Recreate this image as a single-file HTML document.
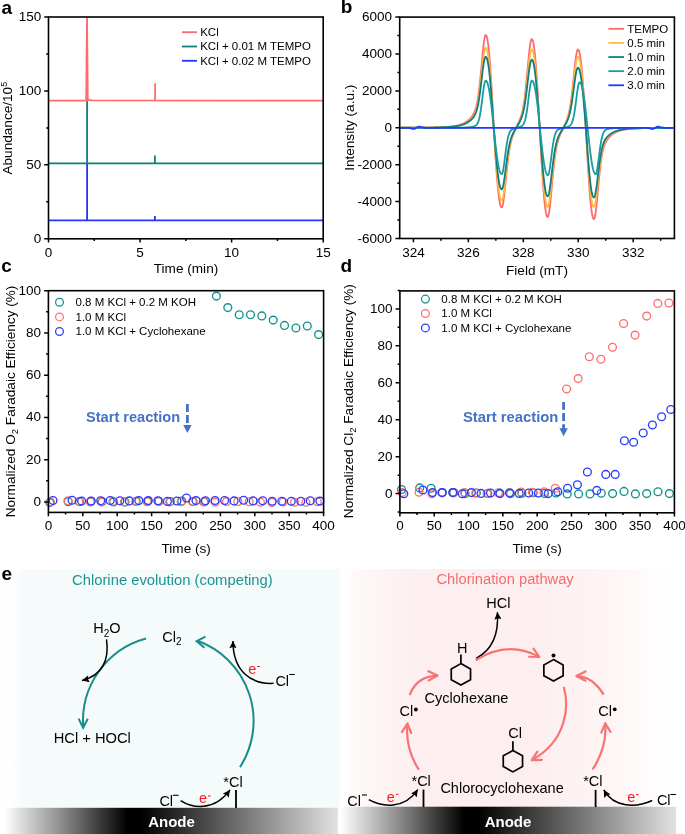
<!DOCTYPE html>
<html><head><meta charset="utf-8"><style>
html,body{margin:0;padding:0;background:#fff;}
svg{display:block;font-family:"Liberation Sans", sans-serif;will-change:transform;}
</style></head><body>
<svg width="685" height="834" viewBox="0 0 685 834">
<defs>
<linearGradient id="gL" x1="0" y1="0" x2="1" y2="0"><stop offset="0" stop-color="#fff"/><stop offset="0.035" stop-color="#FDFEFE"/><stop offset="0.075" stop-color="#F6FAFB"/><stop offset="1" stop-color="#F5FAFB"/></linearGradient>
<linearGradient id="gR" x1="0" y1="0" x2="1" y2="0"><stop offset="0" stop-color="#fff"/><stop offset="0.06" stop-color="#FEF8F8"/><stop offset="0.22" stop-color="#FDEFEF"/><stop offset="0.58" stop-color="#FDEFEF"/><stop offset="0.8" stop-color="#FEF5F5"/><stop offset="0.98" stop-color="#FFFFFF"/><stop offset="1" stop-color="#FFFFFF"/></linearGradient>
<linearGradient id="aL" x1="0" y1="0" x2="1" y2="0"><stop offset="0" stop-color="#fff"/><stop offset="0.17" stop-color="#8E8E8E"/><stop offset="0.37" stop-color="#000"/><stop offset="0.41" stop-color="#000"/><stop offset="1" stop-color="#E2E2E2"/></linearGradient>
<linearGradient id="aR" x1="0" y1="0" x2="1" y2="0"><stop offset="0" stop-color="#fff"/><stop offset="0.17" stop-color="#8E8E8E"/><stop offset="0.37" stop-color="#000"/><stop offset="0.41" stop-color="#000"/><stop offset="1" stop-color="#E2E2E2"/></linearGradient>
<marker id="mk" viewBox="0 0 10 10" refX="10" refY="5" markerWidth="7.2" markerHeight="7.2" markerUnits="userSpaceOnUse" orient="auto"><path d="M0 0L10 5L0 10L1.6 5Z" fill="#000"/></marker>
</defs>
<rect x="0" y="569" width="339.8" height="240" fill="url(#gL)"/>
<rect x="339.8" y="569" width="337" height="240" fill="url(#gR)"/>
<rect x="4" y="807.8" width="334" height="26.2" fill="url(#aL)"/>
<rect x="340.5" y="806.7" width="335.7" height="27.3" fill="url(#aR)"/>
<text x="171.5" y="826.8" font-size="15" text-anchor="middle" font-weight="bold" fill="#fff" >Anode</text>
<text x="508" y="826.8" font-size="15" text-anchor="middle" font-weight="bold" fill="#fff" >Anode</text>
<text x="1.5" y="579.7" font-size="19" text-anchor="start" font-weight="bold" fill="#000" >e</text>
<text x="72" y="584.9" font-size="14.8" text-anchor="start" font-weight="normal" fill="#1A9592" >Chlorine evolution (competing)</text>
<text x="436.5" y="583.9" font-size="14.7" text-anchor="start" font-weight="normal" fill="#F46D6D" >Chlorination pathway</text>
<path d="M146.08 638.54A85.3 85.3 0 0 0 83.26 727.59" stroke="#168E8B" stroke-width="2" fill="none"/>
<path d="M239.97 767.15A85.3 85.3 0 0 0 197.55 640.77" stroke="#168E8B" stroke-width="2" fill="none"/>
<path d="M78.6 718.6L83.1 727.8L87.8 718.8" stroke="#168E8B" stroke-width="2" fill="none" stroke-linejoin="miter"/>
<path d="M205.5 636.6L196.6 641.1L204.4 647.8" stroke="#168E8B" stroke-width="2" fill="none"/>
<text x="93.3" y="632.6" font-size="14.5">H<tspan font-size="10" dy="4">2</tspan><tspan dy="-4">O</tspan></text>
<text x="162.3" y="641.6" font-size="14.5">Cl<tspan font-size="10" dy="3.6">2</tspan></text>
<text x="53.7" y="743.4" font-size="14.7" text-anchor="start" font-weight="normal" fill="#000" >HCl + HOCl</text>
<text x="223.3" y="786.6" font-size="14.5" text-anchor="start" font-weight="normal" fill="#000" >*Cl</text>
<text x="159.4" y="806.4" font-size="14.5">Cl</text><path d="M173.0 795.3H178.6" stroke="#000" stroke-width="1.1"/>
<text x="543.8" y="687" font-size="14.5"></text>
<text x="275.4" y="686.0" font-size="14.5">Cl</text><path d="M289.2 674.5H294.8" stroke="#000" stroke-width="1.1"/>
<text x="199.1" y="803.0" font-size="14.5" fill="#FF1A1A">e</text><path d="M208.0 796.0H210.6" stroke="#FF1A1A" stroke-width="1.1"/>
<text x="248.3" y="674.0" font-size="14.5" fill="#FF1A1A">e</text><path d="M257.1 666.5H259.9" stroke="#FF1A1A" stroke-width="1.1"/>
<path d="M106.5 639.3C109.5 660 102 676 82 680.4" stroke="#000" stroke-width="1.5" fill="none" marker-end="url(#mk)"/>
<path d="M273.6 683.3C252 684.5 232.8 672 233 641" stroke="#000" stroke-width="1.5" fill="none" marker-end="url(#mk)"/>
<path d="M180.6 800.6C192 808 214 812 230 789.9" stroke="#000" stroke-width="1.5" fill="none" marker-end="url(#mk)"/>
<path d="M236 790.1V808" stroke="#000" stroke-width="1.8"/>
<text x="486.2" y="607.6" font-size="14.5" text-anchor="start" font-weight="normal" fill="#000" >HCl</text>
<text x="424.6" y="703.3" font-size="14.5" text-anchor="start" font-weight="normal" fill="#000" >Cyclohexane</text>
<text x="440.4" y="792.5" font-size="14.5" text-anchor="start" font-weight="normal" fill="#000" >Chlorocyclohexane</text>
<text x="399.5" y="715.6" font-size="14.5">Cl</text><circle cx="415.9" cy="709.5" r="1.9" fill="#000"/>
<text x="598.3" y="715.7" font-size="14.5">Cl</text><circle cx="614.7" cy="709.3" r="1.9" fill="#000"/>
<text x="411.5" y="785.8" font-size="14.5" text-anchor="start" font-weight="normal" fill="#000" >*Cl</text>
<text x="583.2" y="785.9" font-size="14.5" text-anchor="start" font-weight="normal" fill="#000" >*Cl</text>
<text x="347.3" y="806.2" font-size="14.5">Cl</text><path d="M362.0 795.0H367.0" stroke="#000" stroke-width="1.1"/>
<text x="656.9" y="805.1" font-size="14.5">Cl</text><path d="M670.4 794.5H675.9" stroke="#000" stroke-width="1.1"/>
<text x="386.8" y="801.8" font-size="14.5" fill="#FF1A1A">e</text><path d="M396.0 794.3H398.4" stroke="#FF1A1A" stroke-width="1.1"/>
<text x="627.3" y="802.0" font-size="14.5" fill="#FF1A1A">e</text><path d="M636.0 794.6H638.6" stroke="#FF1A1A" stroke-width="1.1"/>
<path d="M423.5 789.6V807" stroke="#000" stroke-width="1.8"/>
<path d="M595.6 789.9V807" stroke="#000" stroke-width="1.8"/>
<path d="M368.8 799.7C382 807 404 810 417.8 789.6" stroke="#000" stroke-width="1.5" fill="none" marker-end="url(#mk)"/>
<path d="M652.2 800.5C636 808 614 808 603.8 789.9" stroke="#000" stroke-width="1.5" fill="none" marker-end="url(#mk)"/>
<path d="M476.1 658.3C492 650 499 635 497.4 612.2" stroke="#000" stroke-width="1.5" fill="none" marker-end="url(#mk)"/>
<path d="M460.90 663.60L470.54 668.95L470.54 679.65L460.90 685.00L451.26 679.65L451.26 668.95Z" stroke="#000" stroke-width="1.7" fill="none" stroke-linejoin="miter"/>
<path d="M460.9 663.9V654.5" stroke="#000" stroke-width="1.7"/>
<text x="456.9" y="653" font-size="14.5" text-anchor="start" font-weight="normal" fill="#000" >H</text>
<path d="M553.50 659.60L563.14 664.95L563.14 675.65L553.50 681.00L543.86 675.65L543.86 664.95Z" stroke="#000" stroke-width="1.7" fill="none"/>
<circle cx="553.5" cy="655.5" r="2" fill="#000"/>
<path d="M512.90 750.50L522.54 755.85L522.54 766.55L512.90 771.90L503.26 766.55L503.26 755.85Z" stroke="#000" stroke-width="1.7" fill="none"/>
<path d="M512.9 750.8V741.3" stroke="#000" stroke-width="1.7"/>
<text x="508.2" y="737.5" font-size="14.5" text-anchor="start" font-weight="normal" fill="#000" >Cl</text>
<path d="M418.8 769.7Q405 748 407.4 723.5" stroke="#F87373" stroke-width="2.2" fill="none"/>
<path d="M411.12 733.00L407.40 723.50L401.91 732.09" stroke="#F87373" stroke-width="2.2" fill="none" stroke-linecap="round" stroke-linejoin="round"/>
<path d="M409.6 695Q417 676 437.6 675.6" stroke="#F87373" stroke-width="2.2" fill="none"/>
<path d="M428.60 680.41L437.60 675.60L428.42 671.15" stroke="#F87373" stroke-width="2.2" fill="none" stroke-linecap="round" stroke-linejoin="round"/>
<path d="M475.7 660.2Q508 640 539.3 657" stroke="#F87373" stroke-width="2.2" fill="none"/>
<path d="M529.10 656.73L539.30 657.00L533.52 648.59" stroke="#F87373" stroke-width="2.2" fill="none" stroke-linecap="round" stroke-linejoin="round"/>
<path d="M563.7 686.7C569 705 568 740 531.7 760.2" stroke="#F87373" stroke-width="2.2" fill="none"/>
<path d="M537.39 751.73L531.70 760.20L541.89 759.83" stroke="#F87373" stroke-width="2.2" fill="none" stroke-linecap="round" stroke-linejoin="round"/>
<path d="M592.5 769.5Q607 748 605.3 723.2" stroke="#F87373" stroke-width="2.2" fill="none"/>
<path d="M610.54 731.95L605.30 723.20L601.30 732.58" stroke="#F87373" stroke-width="2.2" fill="none" stroke-linecap="round" stroke-linejoin="round"/>
<path d="M603.8 694.7Q592 676 576.4 676.1" stroke="#F87373" stroke-width="2.2" fill="none"/>
<path d="M585.46 671.41L576.40 676.10L585.52 680.67" stroke="#F87373" stroke-width="2.2" fill="none" stroke-linecap="round" stroke-linejoin="round"/>
<path d="M48.5 220.4H323.2M87.1 220.4V163.4M154.9 220.4V216" stroke="#2236FF" stroke-width="1.8" fill="none"/>
<path d="M48.5 163.4H323.2M87.1 163.4V100.6M154.9 163.4V155.5" stroke="#0B807C" stroke-width="1.8" fill="none"/>
<path d="M48.5 100.6H86.2L87 17L87.8 100.2Q89 99.4 92 100.4L323.2 100.6M155.1 100.6V83.3" stroke="#FF6B6B" stroke-width="1.8" fill="none"/>
<rect x="48.5" y="17" width="274.7" height="221.8" fill="none" stroke="#000" stroke-width="1.6"/>
<path d="M48.5 238.8h-4.3M48.5 164.87h-4.3M48.5 90.93h-4.3M48.5 17h-4.3" stroke="#000" stroke-width="1.5" fill="none"/>
<path d="M48.5 201.83h-2.3M48.5 127.9h-2.3M48.5 53.97h-2.3" stroke="#000" stroke-width="1.5" fill="none"/>
<path d="M48.5 238.8v3.8M140.07 238.8v3.8M231.63 238.8v3.8M323.2 238.8v3.8" stroke="#000" stroke-width="1.5" fill="none"/>
<path d="M94.28 238.8v2.2M185.85 238.8v2.2M277.42 238.8v2.2" stroke="#000" stroke-width="1.5" fill="none"/>
<text x="41.3" y="242.8" font-size="13.5" text-anchor="end" font-weight="normal" fill="#000" >0</text>
<text x="41.3" y="168.87" font-size="13.5" text-anchor="end" font-weight="normal" fill="#000" >50</text>
<text x="41.3" y="94.93" font-size="13.5" text-anchor="end" font-weight="normal" fill="#000" >100</text>
<text x="41.3" y="21" font-size="13.5" text-anchor="end" font-weight="normal" fill="#000" >150</text>
<text x="48.5" y="256.7" font-size="13.5" text-anchor="middle" font-weight="normal" fill="#000" >0</text>
<text x="140.07" y="256.7" font-size="13.5" text-anchor="middle" font-weight="normal" fill="#000" >5</text>
<text x="231.63" y="256.7" font-size="13.5" text-anchor="middle" font-weight="normal" fill="#000" >10</text>
<text x="323.2" y="256.7" font-size="13.5" text-anchor="middle" font-weight="normal" fill="#000" >15</text>
<text x="186" y="272.8" font-size="13.6" text-anchor="middle" font-weight="normal" fill="#000" >Time (min)</text>
<text transform="translate(11.9 128.2) rotate(-90)" font-size="13.6" text-anchor="middle">Abundance/10<tspan font-size="9" dy="-4.8">5</tspan></text>
<path d="M182 32.2H197" stroke="#FF6B6B" stroke-width="1.8"/>
<text x="200.2" y="35.9" font-size="11.5" text-anchor="start" font-weight="normal" fill="#000" >KCl</text>
<path d="M182 46.5H197" stroke="#0B807C" stroke-width="1.8"/>
<text x="200.2" y="50.2" font-size="11.5" text-anchor="start" font-weight="normal" fill="#000" >KCl + 0.01 M TEMPO</text>
<path d="M182 60.8H197" stroke="#2236FF" stroke-width="1.8"/>
<text x="200.2" y="64.5" font-size="11.5" text-anchor="start" font-weight="normal" fill="#000" >KCl + 0.02 M TEMPO</text>
<text x="1.5" y="14.2" font-size="19" text-anchor="start" font-weight="bold" fill="#000" >a</text>
<path d="M400.50 127.74 400.90 127.74 401.30 127.74 401.70 127.74 402.10 127.74 402.50 127.74 402.90 127.73 403.30 127.73 403.70 127.73 404.10 127.73 404.50 127.73 404.90 127.73 405.30 127.73 405.70 127.73 406.10 127.72 406.50 127.72 406.90 127.72 407.30 127.72 407.70 127.72 408.10 127.72 408.50 127.72 408.90 127.71 409.30 127.71 409.70 127.71 410.10 127.71 410.50 127.71 410.90 127.71 411.30 127.70 411.70 127.70 412.10 127.70 412.50 127.70 412.90 127.70 413.30 127.69 413.70 127.69 414.10 127.69 414.50 127.69 414.90 127.69 415.30 127.68 415.70 127.68 416.10 127.68 416.50 127.68 416.90 127.67 417.30 127.67 417.70 127.67 418.10 127.67 418.50 127.66 418.90 127.66 419.30 127.66 419.70 127.65 420.10 127.65 420.50 127.65 420.90 127.64 421.30 127.64 421.70 127.64 422.10 127.63 422.50 127.63 422.90 127.63 423.30 127.62 423.70 127.62 424.10 127.61 424.50 127.61 424.90 127.60 425.30 127.60 425.70 127.60 426.10 127.59 426.50 127.59 426.90 127.58 427.30 127.58 427.70 127.57 428.10 127.56 428.50 127.56 428.90 127.55 429.30 127.55 429.70 127.54 430.10 127.53 430.50 127.53 430.90 127.52 431.30 127.51 431.70 127.51 432.10 127.50 432.50 127.49 432.90 127.48 433.30 127.47 433.70 127.46 434.10 127.46 434.50 127.45 434.90 127.44 435.30 127.43 435.70 127.42 436.10 127.41 436.50 127.39 436.90 127.38 437.30 127.37 437.70 127.36 438.10 127.35 438.50 127.33 438.90 127.32 439.30 127.31 439.70 127.29 440.10 127.28 440.50 127.26 440.90 127.24 441.30 127.23 441.70 127.21 442.10 127.19 442.50 127.17 442.90 127.15 443.30 127.13 443.70 127.11 444.10 127.09 444.50 127.07 444.90 127.04 445.30 127.02 445.70 126.99 446.10 126.96 446.50 126.94 446.90 126.91 447.30 126.88 447.70 126.85 448.10 126.81 448.50 126.78 448.90 126.74 449.30 126.71 449.70 126.67 450.10 126.63 450.50 126.58 450.90 126.54 451.30 126.49 451.70 126.45 452.10 126.40 452.50 126.34 452.90 126.29 453.30 126.23 453.70 126.17 454.10 126.11 454.50 126.04 454.90 125.97 455.30 125.90 455.70 125.83 456.10 125.75 456.50 125.67 456.90 125.58 457.30 125.49 457.70 125.39 458.10 125.30 458.50 125.19 458.90 125.08 459.30 124.97 459.70 124.85 460.10 124.72 460.50 124.59 460.90 124.45 461.30 124.30 461.70 124.15 462.10 123.99 462.50 123.82 462.90 123.65 463.30 123.46 463.70 123.27 464.10 123.06 464.50 122.85 464.90 122.62 465.30 122.39 465.70 122.14 466.10 121.88 466.50 121.61 466.90 121.32 467.30 121.02 467.70 120.71 468.10 120.38 468.50 120.03 468.90 119.67 469.30 119.29 469.70 118.89 470.10 118.47 470.50 118.03 470.90 117.57 471.30 117.09 471.70 116.57 472.10 116.03 472.50 115.44 472.90 114.82 473.30 114.15 473.70 113.43 474.10 112.63 474.50 111.76 474.90 110.80 475.30 109.72 475.70 108.52 476.10 107.17 476.50 105.65 476.90 103.93 477.30 101.99 477.70 99.81 478.10 97.37 478.50 94.66 478.90 91.66 479.30 88.37 479.70 84.81 480.10 80.98 480.50 76.91 480.90 72.66 481.30 68.28 481.70 63.82 482.10 59.39 482.50 55.05 482.90 50.92 483.30 47.07 483.70 43.62 484.10 40.65 484.50 38.25 484.90 36.48 485.30 35.38 485.70 35.01 486.10 35.23 486.50 35.93 486.90 37.13 487.30 38.84 487.70 41.08 488.10 43.83 488.50 47.11 488.90 50.91 489.30 55.21 489.70 59.99 490.10 65.23 490.50 70.90 490.90 76.97 491.30 83.40 491.70 90.15 492.10 97.16 492.50 104.40 492.90 111.80 493.30 119.31 493.70 126.88 494.10 133.56 494.50 140.19 494.90 146.71 495.30 153.09 495.70 159.27 496.10 165.20 496.50 170.86 496.90 176.20 497.30 181.18 497.70 185.78 498.10 189.97 498.50 193.73 498.90 197.04 499.30 199.90 499.70 202.29 500.10 204.22 500.50 205.68 500.90 206.69 501.30 207.25 501.70 207.39 502.10 206.99 502.50 205.96 502.90 204.32 503.30 202.12 503.70 199.42 504.10 196.29 504.50 192.80 504.90 189.05 505.30 185.13 505.70 181.10 506.10 177.06 506.50 173.07 506.90 169.18 507.30 165.46 507.70 161.94 508.10 158.64 508.50 155.59 508.90 152.77 509.30 150.20 509.70 147.87 510.10 145.75 510.50 143.84 510.90 142.11 511.30 140.54 511.70 139.11 512.10 137.80 512.50 136.59 512.90 135.47 513.30 134.41 513.70 133.41 514.10 132.45 514.50 131.53 514.90 130.63 515.30 129.76 515.70 128.89 516.10 128.03 516.50 127.18 516.90 126.33 517.30 125.47 517.70 124.60 518.10 123.73 518.50 122.83 518.90 121.91 519.30 120.95 519.70 119.96 520.10 118.91 520.50 117.80 520.90 116.61 521.30 115.33 521.70 113.93 522.10 112.40 522.50 110.71 522.90 108.83 523.30 106.76 523.70 104.46 524.10 101.92 524.50 99.11 524.90 96.04 525.30 92.69 525.70 89.07 526.10 85.21 526.50 81.12 526.90 76.86 527.30 72.47 527.70 68.02 528.10 63.60 528.50 59.27 528.90 55.15 529.30 51.32 529.70 47.87 530.10 44.89 530.50 42.47 530.90 40.67 531.30 39.54 531.70 39.11 532.10 39.26 532.50 39.88 532.90 40.99 533.30 42.61 533.70 44.73 534.10 47.37 534.50 50.52 534.90 54.18 535.30 58.32 535.70 62.94 536.10 68.01 536.50 73.50 536.90 79.38 537.30 85.62 537.70 92.16 538.10 98.97 538.50 105.99 538.90 113.18 539.30 120.47 539.70 127.83 540.10 135.21 540.50 142.55 540.90 149.77 541.30 156.82 541.70 163.66 542.10 170.24 542.50 176.50 542.90 182.41 543.30 187.93 543.70 193.03 544.10 197.67 544.50 201.83 544.90 205.51 545.30 208.67 545.70 211.32 546.10 213.46 546.50 215.09 546.90 216.21 547.30 216.84 547.70 216.99 548.10 216.56 548.50 215.42 548.90 213.61 549.30 211.19 549.70 208.20 550.10 204.74 550.50 200.89 550.90 196.75 551.30 192.41 551.70 187.97 552.10 183.51 552.50 179.10 552.90 174.82 553.30 170.73 553.70 166.85 554.10 163.22 554.50 159.86 554.90 156.78 555.30 153.97 555.70 151.42 556.10 149.12 556.50 147.04 556.90 145.17 557.30 143.48 557.70 141.95 558.10 140.56 558.50 139.28 558.90 138.09 559.30 136.99 559.70 135.95 560.10 134.96 560.50 134.02 560.90 133.10 561.30 132.22 561.70 131.35 562.10 130.50 562.50 129.65 562.90 128.81 563.30 127.98 563.70 127.14 564.10 126.29 564.50 125.44 564.90 124.56 565.30 123.67 565.70 122.75 566.10 121.79 566.50 120.78 566.90 119.71 567.30 118.56 567.70 117.33 568.10 115.98 568.50 114.51 568.90 112.89 569.30 111.10 569.70 109.12 570.10 106.94 570.50 104.53 570.90 101.88 571.30 98.99 571.70 95.87 572.10 92.51 572.50 88.94 572.90 85.20 573.30 81.32 573.70 77.36 574.10 73.38 574.50 69.46 574.90 65.68 575.30 62.11 575.70 58.84 576.10 55.97 576.50 53.55 576.90 51.65 577.30 50.33 577.70 49.63 578.10 49.53 578.50 49.87 578.90 50.64 579.30 51.85 579.70 53.52 580.10 55.65 580.50 58.23 580.90 61.26 581.30 64.74 581.70 68.66 582.10 72.98 582.50 77.70 582.90 82.78 583.30 88.19 583.70 93.90 584.10 99.86 584.50 106.05 584.90 112.40 585.30 118.87 585.70 125.42 586.10 132.43 586.50 139.86 586.90 147.20 587.30 154.41 587.70 161.43 588.10 168.20 588.50 174.69 588.90 180.84 589.30 186.62 589.70 192.00 590.10 196.93 590.50 201.40 590.90 205.38 591.30 208.86 591.70 211.83 592.10 214.29 592.50 216.23 592.90 217.66 593.30 218.59 593.70 219.04 594.10 219.00 594.50 218.27 594.90 216.86 595.30 214.79 595.70 212.14 596.10 208.97 596.50 205.37 596.90 201.44 597.30 197.26 597.70 192.93 598.10 188.55 598.50 184.19 598.90 179.94 599.30 175.84 599.70 171.95 600.10 168.31 600.50 164.94 600.90 161.85 601.30 159.04 601.70 156.50 602.10 154.24 602.50 152.21 602.90 150.42 603.30 148.83 603.70 147.41 604.10 146.16 604.50 145.04 604.90 144.04 605.30 143.14 605.70 142.32 606.10 141.58 606.50 140.89 606.90 140.26 607.30 139.67 607.70 139.11 608.10 138.59 608.50 138.10 608.90 137.63 609.30 137.19 609.70 136.77 610.10 136.37 610.50 135.99 610.90 135.62 611.30 135.27 611.70 134.94 612.10 134.62 612.50 134.32 612.90 134.03 613.30 133.76 613.70 133.50 614.10 133.25 614.50 133.01 614.90 132.78 615.30 132.57 615.70 132.36 616.10 132.16 616.50 131.98 616.90 131.80 617.30 131.63 617.70 131.47 618.10 131.31 618.50 131.17 618.90 131.03 619.30 130.89 619.70 130.77 620.10 130.65 620.50 130.53 620.90 130.42 621.30 130.32 621.70 130.22 622.10 130.12 622.50 130.03 622.90 129.94 623.30 129.86 623.70 129.78 624.10 129.70 624.50 129.63 624.90 129.56 625.30 129.50 625.70 129.43 626.10 129.37 626.50 129.32 626.90 129.26 627.30 129.21 627.70 129.16 628.10 129.11 628.50 129.06 628.90 129.02 629.30 128.98 629.70 128.94 630.10 128.90 630.50 128.86 630.90 128.82 631.30 128.79 631.70 128.76 632.10 128.72 632.50 128.69 632.90 128.66 633.30 128.64 633.70 128.61 634.10 128.58 634.50 128.56 634.90 128.53 635.30 128.51 635.70 128.49 636.10 128.47 636.50 128.45 636.90 128.43 637.30 128.41 637.70 128.39 638.10 128.37 638.50 128.36 638.90 128.34 639.30 128.32 639.70 128.31 640.10 128.29 640.50 128.28 640.90 128.27 641.30 128.25 641.70 128.24 642.10 128.23 642.50 128.22 642.90 128.21 643.30 128.19 643.70 128.18 644.10 128.17 644.50 128.16 644.90 128.15 645.30 128.14 645.70 128.14 646.10 128.13 646.50 128.12 646.90 128.11 647.30 128.10 647.70 128.09 648.10 128.09 648.50 128.08 648.90 128.07 649.30 128.07 649.70 128.06 650.10 128.05 650.50 128.05 650.90 128.04 651.30 128.04 651.70 128.03 652.10 128.02 652.50 128.02 652.90 128.01 653.30 128.01 653.70 128.00 654.10 128.00 654.50 127.99 654.90 127.99 655.30 127.99 655.70 127.98 656.10 127.98 656.50 127.97 656.90 127.97 657.30 127.97 657.70 127.96 658.10 127.96 658.50 127.96 658.90 127.95 659.30 127.95 659.70 127.95 660.10 127.94 660.50 127.94 660.90 127.94 661.30 127.93 661.70 127.93 662.10 127.93 662.50 127.93 662.90 127.92 663.30 127.92 663.70 127.92 664.10 127.92 664.50 127.91 664.90 127.91 665.30 127.91 665.70 127.91 666.10 127.90 666.50 127.90 666.90 127.90 667.30 127.90 667.70 127.90 668.10 127.90 668.50 127.89 668.90 127.89 669.30 127.89 669.70 127.89 670.10 127.89 670.50 127.89 670.90 127.88 671.30 127.88 671.70 127.88 672.10 127.88 672.50 127.88 672.90 127.88 673.30 127.87" stroke="#FF6B6B" stroke-width="1.8" fill="none" stroke-linejoin="round"/>
<path d="M400.50 127.75 400.90 127.75 401.30 127.75 401.70 127.75 402.10 127.75 402.50 127.74 402.90 127.74 403.30 127.74 403.70 127.74 404.10 127.74 404.50 127.74 404.90 127.74 405.30 127.74 405.70 127.74 406.10 127.73 406.50 127.73 406.90 127.73 407.30 127.73 407.70 127.73 408.10 127.73 408.50 127.73 408.90 127.73 409.30 127.72 409.70 127.72 410.10 127.72 410.50 127.72 410.90 127.72 411.30 127.72 411.70 127.72 412.10 127.71 412.50 127.71 412.90 127.71 413.30 127.71 413.70 127.71 414.10 127.70 414.50 127.70 414.90 127.70 415.30 127.70 415.70 127.70 416.10 127.69 416.50 127.69 416.90 127.69 417.30 127.69 417.70 127.69 418.10 127.68 418.50 127.68 418.90 127.68 419.30 127.68 419.70 127.67 420.10 127.67 420.50 127.67 420.90 127.66 421.30 127.66 421.70 127.66 422.10 127.66 422.50 127.65 422.90 127.65 423.30 127.65 423.70 127.64 424.10 127.64 424.50 127.63 424.90 127.63 425.30 127.63 425.70 127.62 426.10 127.62 426.50 127.61 426.90 127.61 427.30 127.61 427.70 127.60 428.10 127.60 428.50 127.59 428.90 127.59 429.30 127.58 429.70 127.58 430.10 127.57 430.50 127.56 430.90 127.56 431.30 127.55 431.70 127.54 432.10 127.54 432.50 127.53 432.90 127.52 433.30 127.52 433.70 127.51 434.10 127.50 434.50 127.49 434.90 127.49 435.30 127.48 435.70 127.47 436.10 127.46 436.50 127.45 436.90 127.44 437.30 127.43 437.70 127.42 438.10 127.41 438.50 127.40 438.90 127.38 439.30 127.37 439.70 127.36 440.10 127.35 440.50 127.33 440.90 127.32 441.30 127.30 441.70 127.29 442.10 127.27 442.50 127.26 442.90 127.24 443.30 127.22 443.70 127.20 444.10 127.18 444.50 127.17 444.90 127.14 445.30 127.12 445.70 127.10 446.10 127.08 446.50 127.05 446.90 127.03 447.30 127.00 447.70 126.97 448.10 126.95 448.50 126.92 448.90 126.89 449.30 126.85 449.70 126.82 450.10 126.79 450.50 126.75 450.90 126.71 451.30 126.67 451.70 126.63 452.10 126.59 452.50 126.54 452.90 126.49 453.30 126.44 453.70 126.39 454.10 126.34 454.50 126.28 454.90 126.22 455.30 126.16 455.70 126.10 456.10 126.03 456.50 125.96 456.90 125.88 457.30 125.80 457.70 125.72 458.10 125.64 458.50 125.55 458.90 125.45 459.30 125.35 459.70 125.25 460.10 125.14 460.50 125.03 460.90 124.91 461.30 124.78 461.70 124.65 462.10 124.51 462.50 124.37 462.90 124.21 463.30 124.05 463.70 123.88 464.10 123.71 464.50 123.52 464.90 123.33 465.30 123.12 465.70 122.91 466.10 122.69 466.50 122.45 466.90 122.20 467.30 121.95 467.70 121.67 468.10 121.39 468.50 121.09 468.90 120.78 469.30 120.45 469.70 120.11 470.10 119.75 470.50 119.37 470.90 118.97 471.30 118.55 471.70 118.10 472.10 117.63 472.50 117.13 472.90 116.60 473.30 116.02 473.70 115.39 474.10 114.71 474.50 113.95 474.90 113.12 475.30 112.19 475.70 111.16 476.10 109.99 476.50 108.67 476.90 107.19 477.30 105.52 477.70 103.64 478.10 101.53 478.50 99.19 478.90 96.60 479.30 93.77 479.70 90.69 480.10 87.38 480.50 83.87 480.90 80.20 481.30 76.42 481.70 72.58 482.10 68.75 482.50 65.00 482.90 61.43 483.30 58.12 483.70 55.14 484.10 52.58 484.50 50.50 484.90 48.97 485.30 48.03 485.70 47.70 486.10 47.89 486.50 48.50 486.90 49.53 487.30 51.01 487.70 52.94 488.10 55.32 488.50 58.15 488.90 61.42 489.30 65.13 489.70 69.26 490.10 73.78 490.50 78.68 490.90 83.92 491.30 89.46 491.70 95.29 492.10 101.34 492.50 107.58 492.90 113.97 493.30 120.46 493.70 126.99 494.10 133.08 494.50 139.12 494.90 145.06 495.30 150.88 495.70 156.51 496.10 161.92 496.50 167.08 496.90 171.95 497.30 176.49 497.70 180.68 498.10 184.50 498.50 187.93 498.90 190.96 499.30 193.56 499.70 195.74 500.10 197.50 500.50 198.84 500.90 199.76 501.30 200.27 501.70 200.40 502.10 200.04 502.50 199.10 502.90 197.61 503.30 195.60 503.70 193.14 504.10 190.29 504.50 187.12 504.90 183.71 505.30 180.13 505.70 176.46 506.10 172.78 506.50 169.14 506.90 165.61 507.30 162.22 507.70 159.02 508.10 156.02 508.50 153.23 508.90 150.67 509.30 148.34 509.70 146.21 510.10 144.29 510.50 142.55 510.90 140.98 511.30 139.56 511.70 138.26 512.10 137.08 512.50 135.98 512.90 134.96 513.30 134.01 513.70 133.11 514.10 132.24 514.50 131.41 514.90 130.60 515.30 129.81 515.70 129.04 516.10 128.27 516.50 127.50 516.90 126.74 517.30 125.97 517.70 125.19 518.10 124.41 518.50 123.61 518.90 122.78 519.30 121.93 519.70 121.04 520.10 120.11 520.50 119.12 520.90 118.07 521.30 116.93 521.70 115.68 522.10 114.32 522.50 112.83 522.90 111.17 523.30 109.33 523.70 107.29 524.10 105.04 524.50 102.56 524.90 99.84 525.30 96.88 525.70 93.68 526.10 90.27 526.50 86.65 526.90 82.89 527.30 79.01 527.70 75.08 528.10 71.16 528.50 67.34 528.90 63.70 529.30 60.31 529.70 57.26 530.10 54.63 530.50 52.49 530.90 50.90 531.30 49.90 531.70 49.51 532.10 49.64 532.50 50.19 532.90 51.17 533.30 52.60 533.70 54.47 534.10 56.80 534.50 59.58 534.90 62.81 535.30 66.46 535.70 70.54 536.10 75.02 536.50 79.87 536.90 85.06 537.30 90.56 537.70 96.34 538.10 102.35 538.50 108.55 538.90 114.89 539.30 121.34 539.70 127.83 540.10 134.37 540.50 140.87 540.90 147.26 541.30 153.51 541.70 159.57 542.10 165.39 542.50 170.94 542.90 176.18 543.30 181.06 543.70 185.58 544.10 189.69 544.50 193.38 544.90 196.63 545.30 199.43 545.70 201.78 546.10 203.67 546.50 205.11 546.90 206.10 547.30 206.66 547.70 206.79 548.10 206.41 548.50 205.40 548.90 203.80 549.30 201.64 549.70 199.00 550.10 195.93 550.50 192.52 550.90 188.85 551.30 185.00 551.70 181.06 552.10 177.11 552.50 173.20 552.90 169.41 553.30 165.78 553.70 162.34 554.10 159.12 554.50 156.15 554.90 153.41 555.30 150.92 555.70 148.66 556.10 146.61 556.50 144.77 556.90 143.11 557.30 141.61 557.70 140.25 558.10 139.01 558.50 137.87 558.90 136.81 559.30 135.83 559.70 134.90 560.10 134.02 560.50 133.18 560.90 132.37 561.30 131.57 561.70 130.80 562.10 130.03 562.50 129.28 562.90 128.53 563.30 127.78 563.70 127.03 564.10 126.27 564.50 125.50 564.90 124.72 565.30 123.91 565.70 123.08 566.10 122.22 566.50 121.31 566.90 120.34 567.30 119.31 567.70 118.20 568.10 116.98 568.50 115.65 568.90 114.19 569.30 112.57 569.70 110.78 570.10 108.81 570.50 106.63 570.90 104.23 571.30 101.62 571.70 98.79 572.10 95.75 572.50 92.52 572.90 89.13 573.30 85.62 573.70 82.03 574.10 78.43 574.50 74.87 574.90 71.44 575.30 68.21 575.70 65.26 576.10 62.65 576.50 60.46 576.90 58.74 577.30 57.55 577.70 56.91 578.10 56.82 578.50 57.13 578.90 57.83 579.30 58.94 579.70 60.45 580.10 62.37 580.50 64.72 580.90 67.47 581.30 70.62 581.70 74.17 582.10 78.09 582.50 82.37 582.90 86.97 583.30 91.88 583.70 97.05 584.10 102.46 584.50 108.06 584.90 113.82 585.30 119.69 585.70 125.63 586.10 131.83 586.50 138.25 586.90 144.61 587.30 150.84 587.70 156.91 588.10 162.78 588.50 168.39 588.90 173.71 589.30 178.71 589.70 183.36 590.10 187.63 590.50 191.50 590.90 194.94 591.30 197.95 591.70 200.52 592.10 202.65 592.50 204.33 592.90 205.57 593.30 206.37 593.70 206.76 594.10 206.72 594.50 206.10 594.90 204.87 595.30 203.09 595.70 200.79 596.10 198.05 596.50 194.93 596.90 191.53 597.30 187.91 597.70 184.17 598.10 180.37 598.50 176.61 598.90 172.92 599.30 169.38 599.70 166.01 600.10 162.86 600.50 159.94 600.90 157.27 601.30 154.84 601.70 152.64 602.10 150.68 602.50 148.93 602.90 147.38 603.30 146.00 603.70 144.78 604.10 143.69 604.50 142.72 604.90 141.86 605.30 141.08 605.70 140.37 606.10 139.73 606.50 139.13 606.90 138.58 607.30 138.07 607.70 137.59 608.10 137.14 608.50 136.72 608.90 136.31 609.30 135.93 609.70 135.57 610.10 135.22 610.50 134.89 610.90 134.57 611.30 134.27 611.70 133.98 612.10 133.71 612.50 133.45 612.90 133.20 613.30 132.96 613.70 132.73 614.10 132.52 614.50 132.31 614.90 132.11 615.30 131.93 615.70 131.75 616.10 131.58 616.50 131.42 616.90 131.26 617.30 131.12 617.70 130.98 618.10 130.84 618.50 130.72 618.90 130.60 619.30 130.48 619.70 130.37 620.10 130.27 620.50 130.17 620.90 130.07 621.30 129.98 621.70 129.89 622.10 129.81 622.50 129.73 622.90 129.66 623.30 129.58 623.70 129.52 624.10 129.45 624.50 129.39 624.90 129.33 625.30 129.27 625.70 129.22 626.10 129.16 626.50 129.11 626.90 129.07 627.30 129.02 627.70 128.98 628.10 128.93 628.50 128.89 628.90 128.86 629.30 128.82 629.70 128.78 630.10 128.75 630.50 128.72 630.90 128.69 631.30 128.66 631.70 128.63 632.10 128.60 632.50 128.57 632.90 128.55 633.30 128.53 633.70 128.50 634.10 128.48 634.50 128.46 634.90 128.44 635.30 128.42 635.70 128.40 636.10 128.38 636.50 128.36 636.90 128.34 637.30 128.33 637.70 128.31 638.10 128.30 638.50 128.28 638.90 128.27 639.30 128.25 639.70 128.24 640.10 128.23 640.50 128.22 640.90 128.20 641.30 128.19 641.70 128.18 642.10 128.17 642.50 128.16 642.90 128.15 643.30 128.14 643.70 128.13 644.10 128.12 644.50 128.12 644.90 128.11 645.30 128.10 645.70 128.09 646.10 128.08 646.50 128.08 646.90 128.07 647.30 128.06 647.70 128.06 648.10 128.05 648.50 128.04 648.90 128.04 649.30 128.03 649.70 128.03 650.10 128.02 650.50 128.01 650.90 128.01 651.30 128.00 651.70 128.00 652.10 127.99 652.50 127.99 652.90 127.99 653.30 127.98 653.70 127.98 654.10 127.97 654.50 127.97 654.90 127.97 655.30 127.96 655.70 127.96 656.10 127.95 656.50 127.95 656.90 127.95 657.30 127.94 657.70 127.94 658.10 127.94 658.50 127.94 658.90 127.93 659.30 127.93 659.70 127.93 660.10 127.92 660.50 127.92 660.90 127.92 661.30 127.92 661.70 127.91 662.10 127.91 662.50 127.91 662.90 127.91 663.30 127.90 663.70 127.90 664.10 127.90 664.50 127.90 664.90 127.90 665.30 127.89 665.70 127.89 666.10 127.89 666.50 127.89 666.90 127.89 667.30 127.89 667.70 127.88 668.10 127.88 668.50 127.88 668.90 127.88 669.30 127.88 669.70 127.88 670.10 127.88 670.50 127.87 670.90 127.87 671.30 127.87 671.70 127.87 672.10 127.87 672.50 127.87 672.90 127.87 673.30 127.87" stroke="#FFBB3D" stroke-width="1.8" fill="none" stroke-linejoin="round"/>
<path d="M400.50 127.75 400.90 127.75 401.30 127.75 401.70 127.75 402.10 127.75 402.50 127.75 402.90 127.75 403.30 127.75 403.70 127.75 404.10 127.75 404.50 127.75 404.90 127.75 405.30 127.74 405.70 127.74 406.10 127.74 406.50 127.74 406.90 127.74 407.30 127.74 407.70 127.74 408.10 127.74 408.50 127.74 408.90 127.73 409.30 127.73 409.70 127.73 410.10 127.73 410.50 127.73 410.90 127.73 411.30 127.73 411.70 127.73 412.10 127.72 412.50 127.72 412.90 127.72 413.30 127.72 413.70 127.72 414.10 127.72 414.50 127.71 414.90 127.71 415.30 127.71 415.70 127.71 416.10 127.71 416.50 127.71 416.90 127.70 417.30 127.70 417.70 127.70 418.10 127.70 418.50 127.69 418.90 127.69 419.30 127.69 419.70 127.69 420.10 127.69 420.50 127.68 420.90 127.68 421.30 127.68 421.70 127.68 422.10 127.67 422.50 127.67 422.90 127.67 423.30 127.66 423.70 127.66 424.10 127.66 424.50 127.65 424.90 127.65 425.30 127.65 425.70 127.64 426.10 127.64 426.50 127.64 426.90 127.63 427.30 127.63 427.70 127.62 428.10 127.62 428.50 127.62 428.90 127.61 429.30 127.61 429.70 127.60 430.10 127.60 430.50 127.59 430.90 127.59 431.30 127.58 431.70 127.57 432.10 127.57 432.50 127.56 432.90 127.56 433.30 127.55 433.70 127.54 434.10 127.54 434.50 127.53 434.90 127.52 435.30 127.51 435.70 127.51 436.10 127.50 436.50 127.49 436.90 127.48 437.30 127.47 437.70 127.46 438.10 127.45 438.50 127.44 438.90 127.43 439.30 127.42 439.70 127.41 440.10 127.40 440.50 127.39 440.90 127.37 441.30 127.36 441.70 127.35 442.10 127.33 442.50 127.32 442.90 127.30 443.30 127.29 443.70 127.27 444.10 127.26 444.50 127.24 444.90 127.22 445.30 127.20 445.70 127.18 446.10 127.16 446.50 127.14 446.90 127.12 447.30 127.09 447.70 127.07 448.10 127.04 448.50 127.02 448.90 126.99 449.30 126.96 449.70 126.93 450.10 126.90 450.50 126.87 450.90 126.84 451.30 126.80 451.70 126.76 452.10 126.73 452.50 126.69 452.90 126.64 453.30 126.60 453.70 126.55 454.10 126.51 454.50 126.46 454.90 126.40 455.30 126.35 455.70 126.29 456.10 126.23 456.50 126.17 456.90 126.10 457.30 126.03 457.70 125.96 458.10 125.88 458.50 125.80 458.90 125.72 459.30 125.63 459.70 125.54 460.10 125.44 460.50 125.34 460.90 125.24 461.30 125.13 461.70 125.01 462.10 124.89 462.50 124.76 462.90 124.62 463.30 124.48 463.70 124.33 464.10 124.17 464.50 124.01 464.90 123.84 465.30 123.66 465.70 123.47 466.10 123.27 466.50 123.06 466.90 122.84 467.30 122.61 467.70 122.37 468.10 122.12 468.50 121.85 468.90 121.58 469.30 121.29 469.70 120.98 470.10 120.66 470.50 120.33 470.90 119.97 471.30 119.60 471.70 119.21 472.10 118.79 472.50 118.35 472.90 117.87 473.30 117.36 473.70 116.80 474.10 116.20 474.50 115.53 474.90 114.79 475.30 113.97 475.70 113.05 476.10 112.01 476.50 110.85 476.90 109.53 477.30 108.05 477.70 106.38 478.10 104.52 478.50 102.44 478.90 100.15 479.30 97.63 479.70 94.90 480.10 91.97 480.50 88.86 480.90 85.61 481.30 82.25 481.70 78.85 482.10 75.45 482.50 72.14 482.90 68.97 483.30 66.03 483.70 63.39 484.10 61.12 484.50 59.28 484.90 57.92 485.30 57.09 485.70 56.80 486.10 56.97 486.50 57.50 486.90 58.42 487.30 59.73 487.70 61.44 488.10 63.55 488.50 66.06 488.90 68.97 489.30 72.25 489.70 75.91 490.10 79.92 490.50 84.26 490.90 88.91 491.30 93.83 491.70 98.99 492.10 104.36 492.50 109.89 492.90 115.55 493.30 121.30 493.70 127.10 494.10 132.25 494.50 137.37 494.90 142.41 495.30 147.34 495.70 152.11 496.10 156.70 496.50 161.07 496.90 165.19 497.30 169.04 497.70 172.59 498.10 175.83 498.50 178.74 498.90 181.30 499.30 183.50 499.70 185.35 500.10 186.84 500.50 187.97 500.90 188.75 501.30 189.18 501.70 189.29 502.10 188.98 502.50 188.19 502.90 186.92 503.30 185.22 503.70 183.13 504.10 180.72 504.50 178.03 504.90 175.13 505.30 172.10 505.70 168.99 506.10 165.86 506.50 162.78 506.90 159.78 507.30 156.91 507.70 154.19 508.10 151.64 508.50 149.28 508.90 147.11 509.30 145.13 509.70 143.32 510.10 141.69 510.50 140.21 510.90 138.88 511.30 137.67 511.70 136.56 512.10 135.55 512.50 134.62 512.90 133.75 513.30 132.94 513.70 132.17 514.10 131.43 514.50 130.72 514.90 130.03 515.30 129.35 515.70 128.68 516.10 128.02 516.50 127.37 516.90 126.71 517.30 126.05 517.70 125.38 518.10 124.71 518.50 124.01 518.90 123.31 519.30 122.57 519.70 121.81 520.10 121.00 520.50 120.15 520.90 119.23 521.30 118.25 521.70 117.17 522.10 115.99 522.50 114.69 522.90 113.26 523.30 111.66 523.70 109.90 524.10 107.94 524.50 105.79 524.90 103.43 525.30 100.85 525.70 98.08 526.10 95.11 526.50 91.97 526.90 88.70 527.30 85.33 527.70 81.91 528.10 78.51 528.50 75.19 528.90 72.03 529.30 69.08 529.70 66.43 530.10 64.15 530.50 62.29 530.90 60.91 531.30 60.04 531.70 59.70 532.10 59.82 532.50 60.30 532.90 61.15 533.30 62.39 533.70 64.03 534.10 66.05 534.50 68.47 534.90 71.27 535.30 74.46 535.70 78.00 536.10 81.90 536.50 86.11 536.90 90.63 537.30 95.41 537.70 100.44 538.10 105.67 538.50 111.06 538.90 116.58 539.30 122.18 539.70 127.82 540.10 133.50 540.50 139.13 540.90 144.67 541.30 150.09 541.70 155.34 542.10 160.39 542.50 165.20 542.90 169.74 543.30 173.98 543.70 177.89 544.10 181.46 544.50 184.65 544.90 187.47 545.30 189.91 545.70 191.94 546.10 193.58 546.50 194.83 546.90 195.69 547.30 196.17 547.70 196.29 548.10 195.96 548.50 195.09 548.90 193.70 549.30 191.84 549.70 189.54 550.10 186.89 550.50 183.93 550.90 180.75 551.30 177.42 551.70 174.01 552.10 170.58 552.50 167.20 552.90 163.91 553.30 160.77 553.70 157.79 554.10 155.00 554.50 152.43 554.90 150.06 555.30 147.90 555.70 145.94 556.10 144.17 556.50 142.58 556.90 141.14 557.30 139.85 557.70 138.67 558.10 137.60 558.50 136.62 558.90 135.71 559.30 134.86 559.70 134.06 560.10 133.30 560.50 132.58 560.90 131.88 561.30 131.20 561.70 130.53 562.10 129.87 562.50 129.23 562.90 128.58 563.30 127.94 563.70 127.29 564.10 126.65 564.50 125.99 564.90 125.32 565.30 124.63 565.70 123.93 566.10 123.19 566.50 122.41 566.90 121.59 567.30 120.71 567.70 119.76 568.10 118.73 568.50 117.60 568.90 116.36 569.30 114.99 569.70 113.47 570.10 111.79 570.50 109.94 570.90 107.91 571.30 105.69 571.70 103.29 572.10 100.71 572.50 97.98 572.90 95.10 573.30 92.13 573.70 89.09 574.10 86.03 574.50 83.02 574.90 80.12 575.30 77.38 575.70 74.87 576.10 72.66 576.50 70.81 576.90 69.35 577.30 68.34 577.70 67.80 578.10 67.72 578.50 67.99 578.90 68.58 579.30 69.51 579.70 70.79 580.10 72.42 580.50 74.40 580.90 76.73 581.30 79.40 581.70 82.41 582.10 85.73 582.50 89.35 582.90 93.25 583.30 97.40 583.70 101.78 584.10 106.36 584.50 111.10 584.90 115.98 585.30 120.95 585.70 125.97 586.10 131.34 586.50 137.01 586.90 142.62 587.30 148.12 587.70 153.48 588.10 158.65 588.50 163.60 588.90 168.30 589.30 172.72 589.70 176.82 590.10 180.58 590.50 184.00 590.90 187.04 591.30 189.69 591.70 191.96 592.10 193.84 592.50 195.32 592.90 196.41 593.30 197.12 593.70 197.47 594.10 197.43 594.50 196.88 594.90 195.80 595.30 194.22 595.70 192.20 596.10 189.78 596.50 187.03 596.90 184.03 597.30 180.83 597.70 177.53 598.10 174.19 598.50 170.86 598.90 167.61 599.30 164.48 599.70 161.51 600.10 158.73 600.50 156.16 600.90 153.80 601.30 151.65 601.70 149.72 602.10 147.99 602.50 146.44 602.90 145.07 603.30 143.86 603.70 142.78 604.10 141.82 604.50 140.97 604.90 140.20 605.30 139.51 605.70 138.89 606.10 138.32 606.50 137.80 606.90 137.31 607.30 136.86 607.70 136.44 608.10 136.04 608.50 135.67 608.90 135.31 609.30 134.97 609.70 134.65 610.10 134.34 610.50 134.05 610.90 133.77 611.30 133.51 611.70 133.25 612.10 133.01 612.50 132.78 612.90 132.56 613.30 132.35 613.70 132.15 614.10 131.96 614.50 131.78 614.90 131.60 615.30 131.44 615.70 131.28 616.10 131.13 616.50 130.99 616.90 130.85 617.30 130.72 617.70 130.60 618.10 130.48 618.50 130.37 618.90 130.26 619.30 130.16 619.70 130.07 620.10 129.97 620.50 129.89 620.90 129.80 621.30 129.72 621.70 129.65 622.10 129.57 622.50 129.50 622.90 129.44 623.30 129.37 623.70 129.31 624.10 129.25 624.50 129.20 624.90 129.15 625.30 129.10 625.70 129.05 626.10 129.00 626.50 128.96 626.90 128.92 627.30 128.88 627.70 128.84 628.10 128.80 628.50 128.76 628.90 128.73 629.30 128.70 629.70 128.67 630.10 128.64 630.50 128.61 630.90 128.58 631.30 128.56 631.70 128.53 632.10 128.51 632.50 128.48 632.90 128.46 633.30 128.44 633.70 128.42 634.10 128.40 634.50 128.38 634.90 128.36 635.30 128.34 635.70 128.33 636.10 128.31 636.50 128.29 636.90 128.28 637.30 128.27 637.70 128.25 638.10 128.24 638.50 128.23 638.90 128.21 639.30 128.20 639.70 128.19 640.10 128.18 640.50 128.17 640.90 128.16 641.30 128.15 641.70 128.14 642.10 128.13 642.50 128.12 642.90 128.11 643.30 128.10 643.70 128.09 644.10 128.09 644.50 128.08 644.90 128.07 645.30 128.06 645.70 128.06 646.10 128.05 646.50 128.04 646.90 128.04 647.30 128.03 647.70 128.02 648.10 128.02 648.50 128.01 648.90 128.01 649.30 128.00 649.70 128.00 650.10 127.99 650.50 127.99 650.90 127.98 651.30 127.98 651.70 127.98 652.10 127.97 652.50 127.97 652.90 127.96 653.30 127.96 653.70 127.96 654.10 127.95 654.50 127.95 654.90 127.95 655.30 127.94 655.70 127.94 656.10 127.94 656.50 127.93 656.90 127.93 657.30 127.93 657.70 127.92 658.10 127.92 658.50 127.92 658.90 127.92 659.30 127.91 659.70 127.91 660.10 127.91 660.50 127.91 660.90 127.90 661.30 127.90 661.70 127.90 662.10 127.90 662.50 127.90 662.90 127.89 663.30 127.89 663.70 127.89 664.10 127.89 664.50 127.89 664.90 127.89 665.30 127.88 665.70 127.88 666.10 127.88 666.50 127.88 666.90 127.88 667.30 127.88 667.70 127.87 668.10 127.87 668.50 127.87 668.90 127.87 669.30 127.87 669.70 127.87 670.10 127.87 670.50 127.87 670.90 127.86 671.30 127.86 671.70 127.86 672.10 127.86 672.50 127.86 672.90 127.86 673.30 127.86" stroke="#0F7F7C" stroke-width="1.8" fill="none" stroke-linejoin="round"/>
<path d="M400.50 127.80 400.90 127.80 401.30 127.80 401.70 127.80 402.10 127.80 402.50 127.80 402.90 127.80 403.30 127.80 403.70 127.80 404.10 127.80 404.50 127.80 404.90 127.80 405.30 127.80 405.70 127.80 406.10 127.80 406.50 127.80 406.90 127.80 407.30 127.80 407.70 127.80 408.10 127.80 408.50 127.80 408.90 127.80 409.30 127.80 409.70 127.80 410.10 127.80 410.50 127.80 410.90 127.80 411.30 127.80 411.70 127.80 412.10 127.80 412.50 127.80 412.90 127.80 413.30 127.80 413.70 127.80 414.10 127.80 414.50 127.80 414.90 127.80 415.30 127.80 415.70 127.80 416.10 127.80 416.50 127.80 416.90 127.80 417.30 127.80 417.70 127.80 418.10 127.80 418.50 127.80 418.90 127.80 419.30 127.80 419.70 127.80 420.10 127.80 420.50 127.80 420.90 127.80 421.30 127.79 421.70 127.79 422.10 127.79 422.50 127.79 422.90 127.79 423.30 127.79 423.70 127.79 424.10 127.79 424.50 127.79 424.90 127.79 425.30 127.79 425.70 127.79 426.10 127.79 426.50 127.79 426.90 127.79 427.30 127.79 427.70 127.79 428.10 127.79 428.50 127.79 428.90 127.79 429.30 127.79 429.70 127.79 430.10 127.79 430.50 127.79 430.90 127.79 431.30 127.79 431.70 127.79 432.10 127.79 432.50 127.79 432.90 127.79 433.30 127.79 433.70 127.79 434.10 127.79 434.50 127.79 434.90 127.79 435.30 127.79 435.70 127.79 436.10 127.79 436.50 127.79 436.90 127.79 437.30 127.79 437.70 127.78 438.10 127.78 438.50 127.78 438.90 127.78 439.30 127.78 439.70 127.78 440.10 127.78 440.50 127.78 440.90 127.78 441.30 127.78 441.70 127.78 442.10 127.78 442.50 127.78 442.90 127.78 443.30 127.78 443.70 127.78 444.10 127.77 444.50 127.77 444.90 127.77 445.30 127.77 445.70 127.77 446.10 127.77 446.50 127.77 446.90 127.77 447.30 127.77 447.70 127.76 448.10 127.76 448.50 127.76 448.90 127.76 449.30 127.76 449.70 127.76 450.10 127.76 450.50 127.75 450.90 127.75 451.30 127.75 451.70 127.75 452.10 127.75 452.50 127.74 452.90 127.74 453.30 127.74 453.70 127.73 454.10 127.73 454.50 127.73 454.90 127.73 455.30 127.72 455.70 127.72 456.10 127.71 456.50 127.71 456.90 127.71 457.30 127.70 457.70 127.70 458.10 127.69 458.50 127.68 458.90 127.68 459.30 127.67 459.70 127.67 460.10 127.66 460.50 127.65 460.90 127.64 461.30 127.63 461.70 127.62 462.10 127.61 462.50 127.60 462.90 127.59 463.30 127.58 463.70 127.57 464.10 127.55 464.50 127.54 464.90 127.52 465.30 127.50 465.70 127.48 466.10 127.46 466.50 127.44 466.90 127.41 467.30 127.39 467.70 127.36 468.10 127.33 468.50 127.30 468.90 127.26 469.30 127.22 469.70 127.18 470.10 127.14 470.50 127.09 470.90 127.03 471.30 126.97 471.70 126.91 472.10 126.84 472.50 126.76 472.90 126.67 473.30 126.58 473.70 126.46 474.10 126.34 474.50 126.19 474.90 126.01 475.30 125.80 475.70 125.54 476.10 125.22 476.50 124.83 476.90 124.35 477.30 123.76 477.70 123.03 478.10 122.14 478.50 121.06 478.90 119.76 479.30 118.22 479.70 116.42 480.10 114.34 480.50 112.00 480.90 109.38 481.30 106.54 481.70 103.49 482.10 100.32 482.50 97.08 482.90 93.88 483.30 90.80 483.70 87.97 484.10 85.47 484.50 83.41 484.90 81.88 485.30 80.93 485.70 80.61 486.10 80.73 486.50 81.09 486.90 81.71 487.30 82.60 487.70 83.75 488.10 85.16 488.50 86.85 488.90 88.80 489.30 91.00 489.70 93.46 490.10 96.14 490.50 99.05 490.90 102.17 491.30 105.46 491.70 108.92 492.10 112.52 492.50 116.23 492.90 120.03 493.30 123.88 493.70 127.77 494.10 131.58 494.50 135.37 494.90 139.10 495.30 142.75 495.70 146.29 496.10 149.69 496.50 152.93 496.90 155.99 497.30 158.85 497.70 161.49 498.10 163.90 498.50 166.07 498.90 167.98 499.30 169.64 499.70 171.03 500.10 172.16 500.50 173.02 500.90 173.63 501.30 173.99 501.70 174.10 502.10 173.78 502.50 172.85 502.90 171.33 503.30 169.31 503.70 166.85 504.10 164.05 504.50 161.03 504.90 157.87 505.30 154.68 505.70 151.55 506.10 148.56 506.50 145.75 506.90 143.17 507.30 140.86 507.70 138.81 508.10 137.03 508.50 135.51 508.90 134.22 509.30 133.14 509.70 132.25 510.10 131.52 510.50 130.92 510.90 130.44 511.30 130.04 511.70 129.71 512.10 129.44 512.50 129.20 512.90 129.01 513.30 128.83 513.70 128.68 514.10 128.54 514.50 128.41 514.90 128.29 515.30 128.18 515.70 128.07 516.10 127.96 516.50 127.86 516.90 127.76 517.30 127.65 517.70 127.55 518.10 127.44 518.50 127.32 518.90 127.21 519.30 127.08 519.70 126.95 520.10 126.80 520.50 126.64 520.90 126.45 521.30 126.23 521.70 125.98 522.10 125.67 522.50 125.31 522.90 124.86 523.30 124.31 523.70 123.63 524.10 122.81 524.50 121.81 524.90 120.61 525.30 119.18 525.70 117.50 526.10 115.55 526.50 113.33 526.90 110.83 527.30 108.09 527.70 105.12 528.10 101.99 528.50 98.76 528.90 95.52 529.30 92.36 529.70 89.38 530.10 86.69 530.50 84.39 530.90 82.58 531.30 81.32 531.70 80.68 532.10 80.62 532.50 80.86 532.90 81.35 533.30 82.10 533.70 83.12 534.10 84.40 534.50 85.95 534.90 87.77 535.30 89.85 535.70 92.18 536.10 94.76 536.50 97.56 536.90 100.58 537.30 103.79 537.70 107.18 538.10 110.72 538.50 114.38 538.90 118.14 539.30 121.98 539.70 125.86 540.10 129.76 540.50 133.66 540.90 137.52 541.30 141.31 541.70 144.99 542.10 148.55 542.50 151.96 542.90 155.19 543.30 158.22 543.70 161.05 544.10 163.64 544.50 165.98 544.90 168.08 545.30 169.91 545.70 171.47 546.10 172.76 546.50 173.78 546.90 174.54 547.30 175.03 547.70 175.27 548.10 175.22 548.50 174.57 548.90 173.31 549.30 171.48 549.70 169.17 550.10 166.47 550.50 163.47 550.90 160.29 551.30 157.03 551.70 153.78 552.10 150.64 552.50 147.66 552.90 144.90 553.30 142.39 553.70 140.15 554.10 138.20 554.50 136.51 554.90 135.07 555.30 133.87 555.70 132.86 556.10 132.04 556.50 131.37 556.90 130.82 557.30 130.37 557.70 130.00 558.10 129.70 558.50 129.45 558.90 129.24 559.30 129.06 559.70 128.90 560.10 128.76 560.50 128.63 560.90 128.52 561.30 128.41 561.70 128.30 562.10 128.21 562.50 128.11 562.90 128.02 563.30 127.93 563.70 127.84 564.10 127.75 564.50 127.67 564.90 127.57 565.30 127.48 565.70 127.39 566.10 127.29 566.50 127.18 566.90 127.07 567.30 126.95 567.70 126.82 568.10 126.67 568.50 126.50 568.90 126.30 569.30 126.07 569.70 125.80 570.10 125.46 570.50 125.05 570.90 124.55 571.30 123.94 571.70 123.18 572.10 122.27 572.50 121.16 572.90 119.85 573.30 118.29 573.70 116.48 574.10 114.40 574.50 112.06 574.90 109.47 575.30 106.67 575.70 103.68 576.10 100.59 576.50 97.46 576.90 94.38 577.30 91.45 577.70 88.78 578.10 86.47 578.50 84.59 578.90 83.24 579.30 82.47 579.70 82.30 580.10 82.47 580.50 82.89 580.90 83.55 581.30 84.46 581.70 85.64 582.10 87.07 582.50 88.76 582.90 90.70 583.30 92.89 583.70 95.32 584.10 97.97 584.50 100.83 584.90 103.88 585.30 107.11 585.70 110.49 586.10 113.99 586.50 117.60 586.90 121.28 587.30 125.02 587.70 128.78 588.10 132.59 588.50 136.36 588.90 140.07 589.30 143.68 589.70 147.18 590.10 150.54 590.50 153.73 590.90 156.74 591.30 159.54 591.70 162.12 592.10 164.47 592.50 166.57 592.90 168.42 593.30 170.01 593.70 171.33 594.10 172.39 594.50 173.20 594.90 173.74 595.30 174.04 595.70 174.09 596.10 173.61 596.50 172.54 596.90 170.89 597.30 168.76 597.70 166.22 598.10 163.36 598.50 160.31 598.90 157.15 599.30 153.98 599.70 150.89 600.10 147.94 600.50 145.21 600.90 142.71 601.30 140.47 601.70 138.50 602.10 136.80 602.50 135.35 602.90 134.13 603.30 133.12 603.70 132.29 604.10 131.61 604.50 131.06 604.90 130.61 605.30 130.25 605.70 129.95 606.10 129.71 606.50 129.51 606.90 129.34 607.30 129.20 607.70 129.08 608.10 128.98 608.50 128.88 608.90 128.80 609.30 128.72 609.70 128.66 610.10 128.59 610.50 128.54 610.90 128.49 611.30 128.44 611.70 128.40 612.10 128.36 612.50 128.32 612.90 128.28 613.30 128.25 613.70 128.22 614.10 128.20 614.50 128.17 614.90 128.15 615.30 128.13 615.70 128.11 616.10 128.09 616.50 128.07 616.90 128.06 617.30 128.04 617.70 128.03 618.10 128.01 618.50 128.00 618.90 127.99 619.30 127.98 619.70 127.97 620.10 127.96 620.50 127.95 620.90 127.94 621.30 127.94 621.70 127.93 622.10 127.92 622.50 127.92 622.90 127.91 623.30 127.91 623.70 127.90 624.10 127.90 624.50 127.89 624.90 127.89 625.30 127.88 625.70 127.88 626.10 127.88 626.50 127.87 626.90 127.87 627.30 127.87 627.70 127.86 628.10 127.86 628.50 127.86 628.90 127.86 629.30 127.85 629.70 127.85 630.10 127.85 630.50 127.85 630.90 127.85 631.30 127.84 631.70 127.84 632.10 127.84 632.50 127.84 632.90 127.84 633.30 127.84 633.70 127.83 634.10 127.83 634.50 127.83 634.90 127.83 635.30 127.83 635.70 127.83 636.10 127.83 636.50 127.83 636.90 127.83 637.30 127.82 637.70 127.82 638.10 127.82 638.50 127.82 638.90 127.82 639.30 127.82 639.70 127.82 640.10 127.82 640.50 127.82 640.90 127.82 641.30 127.82 641.70 127.82 642.10 127.82 642.50 127.82 642.90 127.82 643.30 127.82 643.70 127.81 644.10 127.81 644.50 127.81 644.90 127.81 645.30 127.81 645.70 127.81 646.10 127.81 646.50 127.81 646.90 127.81 647.30 127.81 647.70 127.81 648.10 127.81 648.50 127.81 648.90 127.81 649.30 127.81 649.70 127.81 650.10 127.81 650.50 127.81 650.90 127.81 651.30 127.81 651.70 127.81 652.10 127.81 652.50 127.81 652.90 127.81 653.30 127.81 653.70 127.81 654.10 127.81 654.50 127.81 654.90 127.81 655.30 127.81 655.70 127.81 656.10 127.81 656.50 127.81 656.90 127.81 657.30 127.81 657.70 127.81 658.10 127.81 658.50 127.81 658.90 127.81 659.30 127.81 659.70 127.81 660.10 127.80 660.50 127.80 660.90 127.80 661.30 127.80 661.70 127.80 662.10 127.80 662.50 127.80 662.90 127.80 663.30 127.80 663.70 127.80 664.10 127.80 664.50 127.80 664.90 127.80 665.30 127.80 665.70 127.80 666.10 127.80 666.50 127.80 666.90 127.80 667.30 127.80 667.70 127.80 668.10 127.80 668.50 127.80 668.90 127.80 669.30 127.80 669.70 127.80 670.10 127.80 670.50 127.80 670.90 127.80 671.30 127.80 671.70 127.80 672.10 127.80 672.50 127.80 672.90 127.80 673.30 127.80" stroke="#1A9BA0" stroke-width="1.8" fill="none" stroke-linejoin="round"/>
<path d="M400.50 127.80 400.90 127.80 401.30 127.80 401.70 127.80 402.10 127.80 402.50 127.80 402.90 127.80 403.30 127.80 403.70 127.80 404.10 127.80 404.50 127.80 404.90 127.80 405.30 127.80 405.70 127.80 406.10 127.81 406.50 127.81 406.90 127.82 407.30 127.83 407.70 127.85 408.10 127.87 408.50 127.90 408.90 127.93 409.30 127.98 409.70 128.05 410.10 128.12 410.50 128.22 410.90 128.32 411.30 128.43 411.70 128.54 412.10 128.66 412.50 128.76 412.90 128.84 413.30 128.89 413.70 128.90 414.10 128.86 414.50 128.78 414.90 128.64 415.30 128.46 415.70 128.24 416.10 127.99 416.50 127.74 416.90 127.48 417.30 127.25 417.70 127.04 418.10 126.88 418.50 126.77 418.90 126.71 419.30 126.70 419.70 126.73 420.10 126.80 420.50 126.89 420.90 127.00 421.30 127.11 421.70 127.23 422.10 127.34 422.50 127.43 422.90 127.52 423.30 127.59 423.70 127.64 424.10 127.69 424.50 127.72 424.90 127.75 425.30 127.76 425.70 127.78 426.10 127.78 426.50 127.79 426.90 127.79 427.30 127.80 427.70 127.80 428.10 127.80 428.50 127.80 428.90 127.80 429.30 127.80 429.70 127.80 430.10 127.80 430.50 127.80 430.90 127.80 431.30 127.80 431.70 127.80 432.10 127.80 432.50 127.80 432.90 127.80 433.30 127.80 433.70 127.80 434.10 127.80 434.50 127.80 434.90 127.80 435.30 127.80 435.70 127.80 436.10 127.80 436.50 127.80 436.90 127.80 437.30 127.80 437.70 127.80 438.10 127.80 438.50 127.80 438.90 127.80 439.30 127.80 439.70 127.80 440.10 127.80 440.50 127.80 440.90 127.80 441.30 127.80 441.70 127.80 442.10 127.80 442.50 127.80 442.90 127.80 443.30 127.80 443.70 127.80 444.10 127.80 444.50 127.80 444.90 127.80 445.30 127.80 445.70 127.80 446.10 127.80 446.50 127.80 446.90 127.80 447.30 127.80 447.70 127.80 448.10 127.80 448.50 127.80 448.90 127.80 449.30 127.80 449.70 127.80 450.10 127.80 450.50 127.80 450.90 127.80 451.30 127.80 451.70 127.80 452.10 127.80 452.50 127.80 452.90 127.80 453.30 127.80 453.70 127.80 454.10 127.80 454.50 127.80 454.90 127.80 455.30 127.80 455.70 127.80 456.10 127.80 456.50 127.80 456.90 127.80 457.30 127.80 457.70 127.80 458.10 127.80 458.50 127.80 458.90 127.80 459.30 127.80 459.70 127.80 460.10 127.80 460.50 127.80 460.90 127.80 461.30 127.80 461.70 127.80 462.10 127.80 462.50 127.80 462.90 127.80 463.30 127.80 463.70 127.80 464.10 127.80 464.50 127.80 464.90 127.80 465.30 127.80 465.70 127.80 466.10 127.80 466.50 127.80 466.90 127.80 467.30 127.80 467.70 127.80 468.10 127.80 468.50 127.80 468.90 127.80 469.30 127.80 469.70 127.80 470.10 127.80 470.50 127.80 470.90 127.80 471.30 127.80 471.70 127.80 472.10 127.80 472.50 127.80 472.90 127.80 473.30 127.80 473.70 127.80 474.10 127.80 474.50 127.80 474.90 127.80 475.30 127.80 475.70 127.80 476.10 127.80 476.50 127.80 476.90 127.80 477.30 127.80 477.70 127.80 478.10 127.80 478.50 127.80 478.90 127.80 479.30 127.80 479.70 127.80 480.10 127.80 480.50 127.80 480.90 127.80 481.30 127.80 481.70 127.80 482.10 127.80 482.50 127.80 482.90 127.80 483.30 127.80 483.70 127.80 484.10 127.80 484.50 127.80 484.90 127.80 485.30 127.80 485.70 127.80 486.10 127.80 486.50 127.80 486.90 127.80 487.30 127.80 487.70 127.80 488.10 127.80 488.50 127.80 488.90 127.80 489.30 127.80 489.70 127.80 490.10 127.80 490.50 127.80 490.90 127.80 491.30 127.80 491.70 127.80 492.10 127.80 492.50 127.80 492.90 127.80 493.30 127.80 493.70 127.80 494.10 127.80 494.50 127.80 494.90 127.80 495.30 127.80 495.70 127.80 496.10 127.80 496.50 127.80 496.90 127.80 497.30 127.80 497.70 127.80 498.10 127.80 498.50 127.80 498.90 127.80 499.30 127.80 499.70 127.80 500.10 127.80 500.50 127.80 500.90 127.80 501.30 127.80 501.70 127.80 502.10 127.80 502.50 127.80 502.90 127.80 503.30 127.80 503.70 127.80 504.10 127.80 504.50 127.80 504.90 127.80 505.30 127.80 505.70 127.80 506.10 127.80 506.50 127.80 506.90 127.80 507.30 127.80 507.70 127.80 508.10 127.80 508.50 127.80 508.90 127.80 509.30 127.80 509.70 127.80 510.10 127.80 510.50 127.80 510.90 127.80 511.30 127.80 511.70 127.80 512.10 127.80 512.50 127.80 512.90 127.80 513.30 127.80 513.70 127.80 514.10 127.80 514.50 127.80 514.90 127.80 515.30 127.80 515.70 127.80 516.10 127.80 516.50 127.80 516.90 127.80 517.30 127.80 517.70 127.80 518.10 127.80 518.50 127.80 518.90 127.80 519.30 127.80 519.70 127.80 520.10 127.80 520.50 127.80 520.90 127.80 521.30 127.80 521.70 127.80 522.10 127.80 522.50 127.80 522.90 127.80 523.30 127.80 523.70 127.80 524.10 127.80 524.50 127.80 524.90 127.80 525.30 127.80 525.70 127.80 526.10 127.80 526.50 127.80 526.90 127.80 527.30 127.80 527.70 127.80 528.10 127.80 528.50 127.80 528.90 127.80 529.30 127.80 529.70 127.80 530.10 127.80 530.50 127.80 530.90 127.80 531.30 127.80 531.70 127.80 532.10 127.80 532.50 127.80 532.90 127.80 533.30 127.80 533.70 127.80 534.10 127.80 534.50 127.80 534.90 127.80 535.30 127.80 535.70 127.80 536.10 127.80 536.50 127.80 536.90 127.80 537.30 127.80 537.70 127.80 538.10 127.80 538.50 127.80 538.90 127.80 539.30 127.80 539.70 127.80 540.10 127.80 540.50 127.80 540.90 127.80 541.30 127.80 541.70 127.80 542.10 127.80 542.50 127.80 542.90 127.80 543.30 127.80 543.70 127.80 544.10 127.80 544.50 127.80 544.90 127.80 545.30 127.80 545.70 127.80 546.10 127.80 546.50 127.80 546.90 127.80 547.30 127.80 547.70 127.80 548.10 127.80 548.50 127.80 548.90 127.80 549.30 127.80 549.70 127.80 550.10 127.80 550.50 127.80 550.90 127.80 551.30 127.80 551.70 127.80 552.10 127.80 552.50 127.80 552.90 127.80 553.30 127.80 553.70 127.80 554.10 127.80 554.50 127.80 554.90 127.80 555.30 127.80 555.70 127.80 556.10 127.80 556.50 127.80 556.90 127.80 557.30 127.80 557.70 127.80 558.10 127.80 558.50 127.80 558.90 127.80 559.30 127.80 559.70 127.80 560.10 127.80 560.50 127.80 560.90 127.80 561.30 127.80 561.70 127.80 562.10 127.80 562.50 127.80 562.90 127.80 563.30 127.80 563.70 127.80 564.10 127.80 564.50 127.80 564.90 127.80 565.30 127.80 565.70 127.80 566.10 127.80 566.50 127.80 566.90 127.80 567.30 127.80 567.70 127.80 568.10 127.80 568.50 127.80 568.90 127.80 569.30 127.80 569.70 127.80 570.10 127.80 570.50 127.80 570.90 127.80 571.30 127.80 571.70 127.80 572.10 127.80 572.50 127.80 572.90 127.80 573.30 127.80 573.70 127.80 574.10 127.80 574.50 127.80 574.90 127.80 575.30 127.80 575.70 127.80 576.10 127.80 576.50 127.80 576.90 127.80 577.30 127.80 577.70 127.80 578.10 127.80 578.50 127.80 578.90 127.80 579.30 127.80 579.70 127.80 580.10 127.80 580.50 127.80 580.90 127.80 581.30 127.80 581.70 127.80 582.10 127.80 582.50 127.80 582.90 127.80 583.30 127.80 583.70 127.80 584.10 127.80 584.50 127.80 584.90 127.80 585.30 127.80 585.70 127.80 586.10 127.80 586.50 127.80 586.90 127.80 587.30 127.80 587.70 127.80 588.10 127.80 588.50 127.80 588.90 127.80 589.30 127.80 589.70 127.80 590.10 127.80 590.50 127.80 590.90 127.80 591.30 127.80 591.70 127.80 592.10 127.80 592.50 127.80 592.90 127.80 593.30 127.80 593.70 127.80 594.10 127.80 594.50 127.80 594.90 127.80 595.30 127.80 595.70 127.80 596.10 127.80 596.50 127.80 596.90 127.80 597.30 127.80 597.70 127.80 598.10 127.80 598.50 127.80 598.90 127.80 599.30 127.80 599.70 127.80 600.10 127.80 600.50 127.80 600.90 127.80 601.30 127.80 601.70 127.80 602.10 127.80 602.50 127.80 602.90 127.80 603.30 127.80 603.70 127.80 604.10 127.80 604.50 127.80 604.90 127.80 605.30 127.80 605.70 127.80 606.10 127.80 606.50 127.80 606.90 127.80 607.30 127.80 607.70 127.80 608.10 127.80 608.50 127.80 608.90 127.80 609.30 127.80 609.70 127.80 610.10 127.80 610.50 127.80 610.90 127.80 611.30 127.80 611.70 127.80 612.10 127.80 612.50 127.80 612.90 127.80 613.30 127.80 613.70 127.80 614.10 127.80 614.50 127.80 614.90 127.80 615.30 127.80 615.70 127.80 616.10 127.80 616.50 127.80 616.90 127.80 617.30 127.80 617.70 127.80 618.10 127.80 618.50 127.80 618.90 127.80 619.30 127.80 619.70 127.80 620.10 127.80 620.50 127.80 620.90 127.80 621.30 127.80 621.70 127.80 622.10 127.80 622.50 127.80 622.90 127.80 623.30 127.80 623.70 127.80 624.10 127.80 624.50 127.80 624.90 127.80 625.30 127.80 625.70 127.80 626.10 127.80 626.50 127.80 626.90 127.80 627.30 127.80 627.70 127.80 628.10 127.80 628.50 127.80 628.90 127.80 629.30 127.80 629.70 127.80 630.10 127.80 630.50 127.80 630.90 127.80 631.30 127.80 631.70 127.80 632.10 127.80 632.50 127.80 632.90 127.80 633.30 127.80 633.70 127.80 634.10 127.80 634.50 127.80 634.90 127.80 635.30 127.80 635.70 127.80 636.10 127.80 636.50 127.80 636.90 127.80 637.30 127.80 637.70 127.80 638.10 127.80 638.50 127.80 638.90 127.80 639.30 127.80 639.70 127.80 640.10 127.80 640.50 127.80 640.90 127.80 641.30 127.80 641.70 127.80 642.10 127.80 642.50 127.80 642.90 127.80 643.30 127.80 643.70 127.80 644.10 127.80 644.50 127.80 644.90 127.81 645.30 127.81 645.70 127.82 646.10 127.83 646.50 127.85 646.90 127.87 647.30 127.90 647.70 127.93 648.10 127.98 648.50 128.05 648.90 128.12 649.30 128.22 649.70 128.32 650.10 128.43 650.50 128.54 650.90 128.66 651.30 128.76 651.70 128.84 652.10 128.89 652.50 128.90 652.90 128.86 653.30 128.78 653.70 128.64 654.10 128.46 654.50 128.24 654.90 127.99 655.30 127.74 655.70 127.48 656.10 127.25 656.50 127.04 656.90 126.88 657.30 126.77 657.70 126.71 658.10 126.70 658.50 126.73 658.90 126.80 659.30 126.89 659.70 127.00 660.10 127.11 660.50 127.23 660.90 127.34 661.30 127.43 661.70 127.52 662.10 127.59 662.50 127.64 662.90 127.69 663.30 127.72 663.70 127.75 664.10 127.76 664.50 127.78 664.90 127.78 665.30 127.79 665.70 127.79 666.10 127.80 666.50 127.80 666.90 127.80 667.30 127.80 667.70 127.80 668.10 127.80 668.50 127.80 668.90 127.80 669.30 127.80 669.70 127.80 670.10 127.80 670.50 127.80 670.90 127.80 671.30 127.80 671.70 127.80 672.10 127.80 672.50 127.80 672.90 127.80 673.30 127.80" stroke="#2236FF" stroke-width="1.8" fill="none"/>
<rect x="399.7" y="17.1" width="274.7" height="221.4" fill="none" stroke="#000" stroke-width="1.6"/>
<path d="M399.7 238.5h-4.3M399.7 201.6h-4.3M399.7 164.7h-4.3M399.7 127.8h-4.3M399.7 90.9h-4.3M399.7 54h-4.3M399.7 17.1h-4.3" stroke="#000" stroke-width="1.5" fill="none"/>
<path d="M399.7 220.05h-2.3M399.7 183.15h-2.3M399.7 146.25h-2.3M399.7 109.35h-2.3M399.7 72.45h-2.3M399.7 35.55h-2.3" stroke="#000" stroke-width="1.5" fill="none"/>
<path d="M413.44 238.5v3.8M468.38 238.5v3.8M523.31 238.5v3.8M578.25 238.5v3.8M633.19 238.5v3.8" stroke="#000" stroke-width="1.5" fill="none"/>
<path d="M440.9 238.5v2.2M495.84 238.5v2.2M550.78 238.5v2.2M605.73 238.5v2.2M660.66 238.5v2.2" stroke="#000" stroke-width="1.5" fill="none"/>
<text x="392" y="242.8" font-size="13.5" text-anchor="end" font-weight="normal" fill="#000" >-6000</text>
<text x="392" y="205.9" font-size="13.5" text-anchor="end" font-weight="normal" fill="#000" >-4000</text>
<text x="392" y="169" font-size="13.5" text-anchor="end" font-weight="normal" fill="#000" >-2000</text>
<text x="392" y="132.1" font-size="13.5" text-anchor="end" font-weight="normal" fill="#000" >0</text>
<text x="392" y="95.2" font-size="13.5" text-anchor="end" font-weight="normal" fill="#000" >2000</text>
<text x="392" y="58.3" font-size="13.5" text-anchor="end" font-weight="normal" fill="#000" >4000</text>
<text x="392" y="21.4" font-size="13.5" text-anchor="end" font-weight="normal" fill="#000" >6000</text>
<text x="413.44" y="256.7" font-size="13.5" text-anchor="middle" font-weight="normal" fill="#000" >324</text>
<text x="468.38" y="256.7" font-size="13.5" text-anchor="middle" font-weight="normal" fill="#000" >326</text>
<text x="523.31" y="256.7" font-size="13.5" text-anchor="middle" font-weight="normal" fill="#000" >328</text>
<text x="578.25" y="256.7" font-size="13.5" text-anchor="middle" font-weight="normal" fill="#000" >330</text>
<text x="633.19" y="256.7" font-size="13.5" text-anchor="middle" font-weight="normal" fill="#000" >332</text>
<text x="537" y="275" font-size="13.6" text-anchor="middle" font-weight="normal" fill="#000" >Field (mT)</text>
<text transform="translate(354.4 127.8) rotate(-90)" font-size="13.6" text-anchor="middle">Intensity (a.u.)</text>
<path d="M608.4 28.8H624" stroke="#FF6B6B" stroke-width="1.8"/>
<text x="627.3" y="32.9" font-size="11.5" text-anchor="start" font-weight="normal" fill="#000" >TEMPO</text>
<path d="M608.4 42.92H624" stroke="#FFBB3D" stroke-width="1.8"/>
<text x="627.3" y="47.02" font-size="11.5" text-anchor="start" font-weight="normal" fill="#000" >0.5 min</text>
<path d="M608.4 57.04H624" stroke="#0F7F7C" stroke-width="1.8"/>
<text x="627.3" y="61.14" font-size="11.5" text-anchor="start" font-weight="normal" fill="#000" >1.0 min</text>
<path d="M608.4 71.16H624" stroke="#1A9BA0" stroke-width="1.8"/>
<text x="627.3" y="75.26" font-size="11.5" text-anchor="start" font-weight="normal" fill="#000" >2.0 min</text>
<path d="M608.4 85.28H624" stroke="#2236FF" stroke-width="1.8"/>
<text x="627.3" y="89.38" font-size="11.5" text-anchor="start" font-weight="normal" fill="#000" >3.0 min</text>
<text x="340.8" y="13.4" font-size="19" text-anchor="start" font-weight="bold" fill="#000" >b</text>
<g fill="none" stroke="#13928D" stroke-width="1.35"><circle cx="49.8" cy="502.6" r="3.9"/><circle cx="68.2" cy="501.7" r="3.9"/><circle cx="79.5" cy="501.8" r="3.9"/><circle cx="90.9" cy="501.4" r="3.9"/><circle cx="102.2" cy="501.6" r="3.9"/><circle cx="113.6" cy="502.0" r="3.9"/><circle cx="125.0" cy="502.0" r="3.9"/><circle cx="136.3" cy="501.2" r="3.9"/><circle cx="147.7" cy="501.3" r="3.9"/><circle cx="159.0" cy="501.2" r="3.9"/><circle cx="170.3" cy="501.5" r="3.9"/><circle cx="181.7" cy="501.1" r="3.9"/><circle cx="193.1" cy="501.6" r="3.9"/><circle cx="204.4" cy="501.7" r="3.9"/><circle cx="216.4" cy="296.1" r="3.9"/><circle cx="227.8" cy="307.6" r="3.9"/><circle cx="239.2" cy="314.7" r="3.9"/><circle cx="250.5" cy="314.7" r="3.9"/><circle cx="261.8" cy="315.9" r="3.9"/><circle cx="273.2" cy="320.1" r="3.9"/><circle cx="284.5" cy="325.4" r="3.9"/><circle cx="295.9" cy="328.0" r="3.9"/><circle cx="307.3" cy="326.0" r="3.9"/><circle cx="318.6" cy="334.6" r="3.9"/></g>
<g fill="none" stroke="#FF7070" stroke-width="1.35"><circle cx="50.5" cy="502.0" r="3.9"/><circle cx="67.9" cy="500.8" r="3.9"/><circle cx="78.9" cy="501.5" r="3.9"/><circle cx="90.3" cy="502.0" r="3.9"/><circle cx="101.6" cy="501.9" r="3.9"/><circle cx="113.0" cy="501.2" r="3.9"/><circle cx="124.3" cy="501.9" r="3.9"/><circle cx="135.7" cy="501.5" r="3.9"/><circle cx="147.1" cy="501.7" r="3.9"/><circle cx="158.4" cy="501.5" r="3.9"/><circle cx="169.8" cy="502.0" r="3.9"/><circle cx="181.1" cy="501.7" r="3.9"/><circle cx="192.4" cy="501.4" r="3.9"/><circle cx="203.8" cy="501.9" r="3.9"/><circle cx="215.1" cy="502.1" r="3.9"/><circle cx="226.5" cy="501.6" r="3.9"/><circle cx="237.8" cy="501.5" r="3.9"/><circle cx="249.2" cy="501.7" r="3.9"/><circle cx="260.5" cy="502.3" r="3.9"/><circle cx="271.9" cy="502.4" r="3.9"/><circle cx="283.2" cy="502.0" r="3.9"/><circle cx="294.6" cy="502.3" r="3.9"/><circle cx="305.9" cy="502.2" r="3.9"/><circle cx="317.3" cy="501.7" r="3.9"/></g>
<g fill="none" stroke="#2A3BFF" stroke-width="1.35"><circle cx="53.0" cy="500.5" r="3.9"/><circle cx="72.1" cy="500.3" r="3.9"/><circle cx="81.6" cy="501.1" r="3.9"/><circle cx="91.2" cy="501.0" r="3.9"/><circle cx="100.7" cy="500.7" r="3.9"/><circle cx="110.2" cy="500.5" r="3.9"/><circle cx="119.8" cy="500.8" r="3.9"/><circle cx="129.3" cy="500.9" r="3.9"/><circle cx="138.8" cy="500.6" r="3.9"/><circle cx="148.3" cy="500.6" r="3.9"/><circle cx="157.9" cy="500.8" r="3.9"/><circle cx="167.4" cy="501.4" r="3.9"/><circle cx="176.9" cy="501.0" r="3.9"/><circle cx="186.5" cy="498.0" r="3.9"/><circle cx="196.0" cy="500.6" r="3.9"/><circle cx="205.5" cy="500.8" r="3.9"/><circle cx="215.0" cy="500.5" r="3.9"/><circle cx="224.6" cy="500.5" r="3.9"/><circle cx="234.1" cy="500.9" r="3.9"/><circle cx="243.6" cy="500.3" r="3.9"/><circle cx="253.2" cy="500.9" r="3.9"/><circle cx="262.7" cy="500.7" r="3.9"/><circle cx="272.2" cy="501.2" r="3.9"/><circle cx="281.8" cy="501.2" r="3.9"/><circle cx="291.3" cy="501.2" r="3.9"/><circle cx="300.8" cy="501.2" r="3.9"/><circle cx="310.3" cy="500.7" r="3.9"/><circle cx="319.9" cy="501.1" r="3.9"/></g>
<rect x="48.4" y="290.7" width="275.2" height="221.7" fill="none" stroke="#000" stroke-width="1.6"/>
<path d="M48.4 501.9h-4.3M48.4 459.66h-4.3M48.4 417.42h-4.3M48.4 375.18h-4.3M48.4 332.94h-4.3M48.4 290.7h-4.3" stroke="#000" stroke-width="1.5" fill="none"/>
<path d="M48.4 480.78h-2.3M48.4 438.54h-2.3M48.4 396.3h-2.3M48.4 354.06h-2.3M48.4 311.82h-2.3" stroke="#000" stroke-width="1.5" fill="none"/>
<path d="M48.4 512.4v3.8M82.8 512.4v3.8M117.2 512.4v3.8M151.6 512.4v3.8M186 512.4v3.8M220.4 512.4v3.8M254.8 512.4v3.8M289.2 512.4v3.8M323.6 512.4v3.8" stroke="#000" stroke-width="1.5" fill="none"/>
<path d="M65.6 512.4v2.2M100 512.4v2.2M134.4 512.4v2.2M168.8 512.4v2.2M203.2 512.4v2.2M237.6 512.4v2.2M272 512.4v2.2M306.4 512.4v2.2" stroke="#000" stroke-width="1.5" fill="none"/>
<text x="41.1" y="505.9" font-size="13.5" text-anchor="end" font-weight="normal" fill="#000" >0</text>
<text x="41.1" y="463.66" font-size="13.5" text-anchor="end" font-weight="normal" fill="#000" >20</text>
<text x="41.1" y="421.42" font-size="13.5" text-anchor="end" font-weight="normal" fill="#000" >40</text>
<text x="41.1" y="379.18" font-size="13.5" text-anchor="end" font-weight="normal" fill="#000" >60</text>
<text x="41.1" y="336.94" font-size="13.5" text-anchor="end" font-weight="normal" fill="#000" >80</text>
<text x="41.1" y="294.7" font-size="13.5" text-anchor="end" font-weight="normal" fill="#000" >100</text>
<text x="48.4" y="530.2" font-size="13.5" text-anchor="middle" font-weight="normal" fill="#000" >0</text>
<text x="82.8" y="530.2" font-size="13.5" text-anchor="middle" font-weight="normal" fill="#000" >50</text>
<text x="117.2" y="530.2" font-size="13.5" text-anchor="middle" font-weight="normal" fill="#000" >100</text>
<text x="151.6" y="530.2" font-size="13.5" text-anchor="middle" font-weight="normal" fill="#000" >150</text>
<text x="186" y="530.2" font-size="13.5" text-anchor="middle" font-weight="normal" fill="#000" >200</text>
<text x="220.4" y="530.2" font-size="13.5" text-anchor="middle" font-weight="normal" fill="#000" >250</text>
<text x="254.8" y="530.2" font-size="13.5" text-anchor="middle" font-weight="normal" fill="#000" >300</text>
<text x="289.2" y="530.2" font-size="13.5" text-anchor="middle" font-weight="normal" fill="#000" >350</text>
<text x="323.6" y="530.2" font-size="13.5" text-anchor="middle" font-weight="normal" fill="#000" >400</text>
<text x="186.2" y="552.5" font-size="13.6" text-anchor="middle" font-weight="normal" fill="#000" >Time (s)</text>
<text transform="translate(15.2 401.5) rotate(-90)" font-size="13.6" text-anchor="middle">Normalized O<tspan font-size="9.5" dy="3">2</tspan><tspan dy="-3"> Faradaic Efficiency (%)</tspan></text>
<circle cx="59.5" cy="302.3" r="3.9" fill="none" stroke="#13928D" stroke-width="1.25"/>
<text x="75.5" y="306" font-size="11.5" text-anchor="start" font-weight="normal" fill="#000" >0.8 M KCl + 0.2 M KOH</text>
<circle cx="59.5" cy="316.9" r="3.9" fill="none" stroke="#FF7070" stroke-width="1.25"/>
<text x="75.5" y="320.6" font-size="11.5" text-anchor="start" font-weight="normal" fill="#000" >1.0 M KCl</text>
<circle cx="59.5" cy="331.5" r="3.9" fill="none" stroke="#2A3BFF" stroke-width="1.25"/>
<text x="75.5" y="335.2" font-size="11.5" text-anchor="start" font-weight="normal" fill="#000" >1.0 M KCl + Cyclohexane</text>
<text x="86" y="421.9" font-size="14.6" text-anchor="start" font-weight="bold" fill="#4472C4" >Start reaction</text>
<path d="M187.4 404.1V411.9M187.4 415.1V422.9" stroke="#4472C4" stroke-width="2.8"/>
<path d="M183.2 425H191.6L187.4 433Z" fill="#4472C4"/>
<text x="1.3" y="272.2" font-size="19" text-anchor="start" font-weight="bold" fill="#000" >c</text>
<g fill="none" stroke="#13928D" stroke-width="1.35"><circle cx="401.5" cy="489.5" r="3.9"/><circle cx="419.7" cy="487.9" r="3.9"/><circle cx="431.1" cy="488.3" r="3.9"/><circle cx="442.4" cy="492.6" r="3.9"/><circle cx="453.8" cy="492.6" r="3.9"/><circle cx="465.1" cy="493.6" r="3.9"/><circle cx="476.4" cy="493.0" r="3.9"/><circle cx="487.8" cy="493.4" r="3.9"/><circle cx="499.1" cy="492.8" r="3.9"/><circle cx="510.5" cy="493.6" r="3.9"/><circle cx="521.9" cy="493.2" r="3.9"/><circle cx="533.2" cy="492.8" r="3.9"/><circle cx="544.5" cy="493.4" r="3.9"/><circle cx="555.9" cy="493.0" r="3.9"/><circle cx="567.2" cy="493.9" r="3.9"/><circle cx="578.6" cy="493.9" r="3.9"/><circle cx="590.0" cy="493.9" r="3.9"/><circle cx="601.3" cy="493.3" r="3.9"/><circle cx="612.6" cy="493.6" r="3.9"/><circle cx="624.0" cy="491.4" r="3.9"/><circle cx="635.4" cy="493.9" r="3.9"/><circle cx="646.7" cy="493.6" r="3.9"/><circle cx="658.0" cy="491.8" r="3.9"/><circle cx="669.4" cy="493.6" r="3.9"/></g>
<g fill="none" stroke="#FF7070" stroke-width="1.35"><circle cx="402.1" cy="492.6" r="3.9"/><circle cx="419.0" cy="492.3" r="3.9"/><circle cx="431.9" cy="493.8" r="3.9"/><circle cx="441.8" cy="492.6" r="3.9"/><circle cx="452.9" cy="492.6" r="3.9"/><circle cx="464.6" cy="492.6" r="3.9"/><circle cx="475.7" cy="493.0" r="3.9"/><circle cx="487.0" cy="493.6" r="3.9"/><circle cx="498.4" cy="493.0" r="3.9"/><circle cx="509.7" cy="492.6" r="3.9"/><circle cx="521.1" cy="492.0" r="3.9"/><circle cx="532.5" cy="492.2" r="3.9"/><circle cx="544.1" cy="491.8" r="3.9"/><circle cx="555.3" cy="488.3" r="3.9"/><circle cx="566.6" cy="389.0" r="3.9"/><circle cx="578.2" cy="378.6" r="3.9"/><circle cx="589.3" cy="356.8" r="3.9"/><circle cx="600.9" cy="359.3" r="3.9"/><circle cx="612.5" cy="347.3" r="3.9"/><circle cx="623.6" cy="323.5" r="3.9"/><circle cx="635.1" cy="335.1" r="3.9"/><circle cx="646.7" cy="316.1" r="3.9"/><circle cx="657.8" cy="303.4" r="3.9"/><circle cx="668.9" cy="303.0" r="3.9"/></g>
<g fill="none" stroke="#2A3BFF" stroke-width="1.35"><circle cx="403.8" cy="493.8" r="3.9"/><circle cx="422.9" cy="490.0" r="3.9"/><circle cx="432.5" cy="492.6" r="3.9"/><circle cx="442.1" cy="492.6" r="3.9"/><circle cx="452.7" cy="492.6" r="3.9"/><circle cx="462.3" cy="493.8" r="3.9"/><circle cx="471.4" cy="492.6" r="3.9"/><circle cx="481.0" cy="493.4" r="3.9"/><circle cx="490.5" cy="493.0" r="3.9"/><circle cx="500.0" cy="493.6" r="3.9"/><circle cx="509.6" cy="493.0" r="3.9"/><circle cx="519.2" cy="493.4" r="3.9"/><circle cx="528.7" cy="493.0" r="3.9"/><circle cx="538.3" cy="493.0" r="3.9"/><circle cx="548.2" cy="493.6" r="3.9"/><circle cx="557.8" cy="491.8" r="3.9"/><circle cx="567.6" cy="488.3" r="3.9"/><circle cx="577.4" cy="484.7" r="3.9"/><circle cx="587.4" cy="472.0" r="3.9"/><circle cx="596.8" cy="490.4" r="3.9"/><circle cx="605.8" cy="474.4" r="3.9"/><circle cx="615.2" cy="474.4" r="3.9"/><circle cx="624.4" cy="440.7" r="3.9"/><circle cx="633.6" cy="442.2" r="3.9"/><circle cx="643.2" cy="433.0" r="3.9"/><circle cx="652.4" cy="425.0" r="3.9"/><circle cx="661.6" cy="416.8" r="3.9"/><circle cx="670.8" cy="409.5" r="3.9"/></g>
<rect x="399.9" y="290.9" width="274.5" height="221.9" fill="none" stroke="#000" stroke-width="1.6"/>
<path d="M399.9 493.6h-4.3M399.9 456.66h-4.3M399.9 419.72h-4.3M399.9 382.78h-4.3M399.9 345.84h-4.3M399.9 308.9h-4.3" stroke="#000" stroke-width="1.5" fill="none"/>
<path d="M399.9 512.07h-2.3M399.9 475.13h-2.3M399.9 438.19h-2.3M399.9 401.25h-2.3M399.9 364.31h-2.3M399.9 327.37h-2.3M399.9 290.43h-2.3" stroke="#000" stroke-width="1.5" fill="none"/>
<path d="M399.9 512.8v3.8M434.21 512.8v3.8M468.52 512.8v3.8M502.84 512.8v3.8M537.15 512.8v3.8M571.46 512.8v3.8M605.77 512.8v3.8M640.09 512.8v3.8M674.4 512.8v3.8" stroke="#000" stroke-width="1.5" fill="none"/>
<path d="M417.06 512.8v2.2M451.37 512.8v2.2M485.68 512.8v2.2M519.99 512.8v2.2M554.31 512.8v2.2M588.62 512.8v2.2M622.93 512.8v2.2M657.24 512.8v2.2" stroke="#000" stroke-width="1.5" fill="none"/>
<text x="392.5" y="497.6" font-size="13.5" text-anchor="end" font-weight="normal" fill="#000" >0</text>
<text x="392.5" y="460.66" font-size="13.5" text-anchor="end" font-weight="normal" fill="#000" >20</text>
<text x="392.5" y="423.72" font-size="13.5" text-anchor="end" font-weight="normal" fill="#000" >40</text>
<text x="392.5" y="386.78" font-size="13.5" text-anchor="end" font-weight="normal" fill="#000" >60</text>
<text x="392.5" y="349.84" font-size="13.5" text-anchor="end" font-weight="normal" fill="#000" >80</text>
<text x="392.5" y="312.9" font-size="13.5" text-anchor="end" font-weight="normal" fill="#000" >100</text>
<text x="399.9" y="530.2" font-size="13.5" text-anchor="middle" font-weight="normal" fill="#000" >0</text>
<text x="434.21" y="530.2" font-size="13.5" text-anchor="middle" font-weight="normal" fill="#000" >50</text>
<text x="468.52" y="530.2" font-size="13.5" text-anchor="middle" font-weight="normal" fill="#000" >100</text>
<text x="502.84" y="530.2" font-size="13.5" text-anchor="middle" font-weight="normal" fill="#000" >150</text>
<text x="537.15" y="530.2" font-size="13.5" text-anchor="middle" font-weight="normal" fill="#000" >200</text>
<text x="571.46" y="530.2" font-size="13.5" text-anchor="middle" font-weight="normal" fill="#000" >250</text>
<text x="605.77" y="530.2" font-size="13.5" text-anchor="middle" font-weight="normal" fill="#000" >300</text>
<text x="640.09" y="530.2" font-size="13.5" text-anchor="middle" font-weight="normal" fill="#000" >350</text>
<text x="674.4" y="530.2" font-size="13.5" text-anchor="middle" font-weight="normal" fill="#000" >400</text>
<text x="537.2" y="552.5" font-size="13.6" text-anchor="middle" font-weight="normal" fill="#000" >Time (s)</text>
<text transform="translate(353.2 401.2) rotate(-90)" font-size="13.6" text-anchor="middle">Normalized Cl<tspan font-size="9.5" dy="3">2</tspan><tspan dy="-3"> Faradaic Efficiency (%)</tspan></text>
<circle cx="425.4" cy="299.1" r="3.9" fill="none" stroke="#13928D" stroke-width="1.25"/>
<text x="441.3" y="302.8" font-size="11.5" text-anchor="start" font-weight="normal" fill="#000" >0.8 M KCl + 0.2 M KOH</text>
<circle cx="425.4" cy="313.5" r="3.9" fill="none" stroke="#FF7070" stroke-width="1.25"/>
<text x="441.3" y="317.2" font-size="11.5" text-anchor="start" font-weight="normal" fill="#000" >1.0 M KCl</text>
<circle cx="425.4" cy="327.9" r="3.9" fill="none" stroke="#2A3BFF" stroke-width="1.25"/>
<text x="441.3" y="331.6" font-size="11.5" text-anchor="start" font-weight="normal" fill="#000" >1.0 M KCl + Cyclohexane</text>
<text x="463" y="422.2" font-size="14.8" text-anchor="start" font-weight="bold" fill="#4472C4" >Start reaction</text>
<path d="M563.6 402V409.8M563.6 413.1V420.9M563.6 424.2V429" stroke="#4472C4" stroke-width="2.8"/>
<path d="M559.4 428.2H567.8L563.6 436.2Z" fill="#4472C4"/>
<text x="340.5" y="272.2" font-size="19" text-anchor="start" font-weight="bold" fill="#000" >d</text>
</svg>
</body></html>
